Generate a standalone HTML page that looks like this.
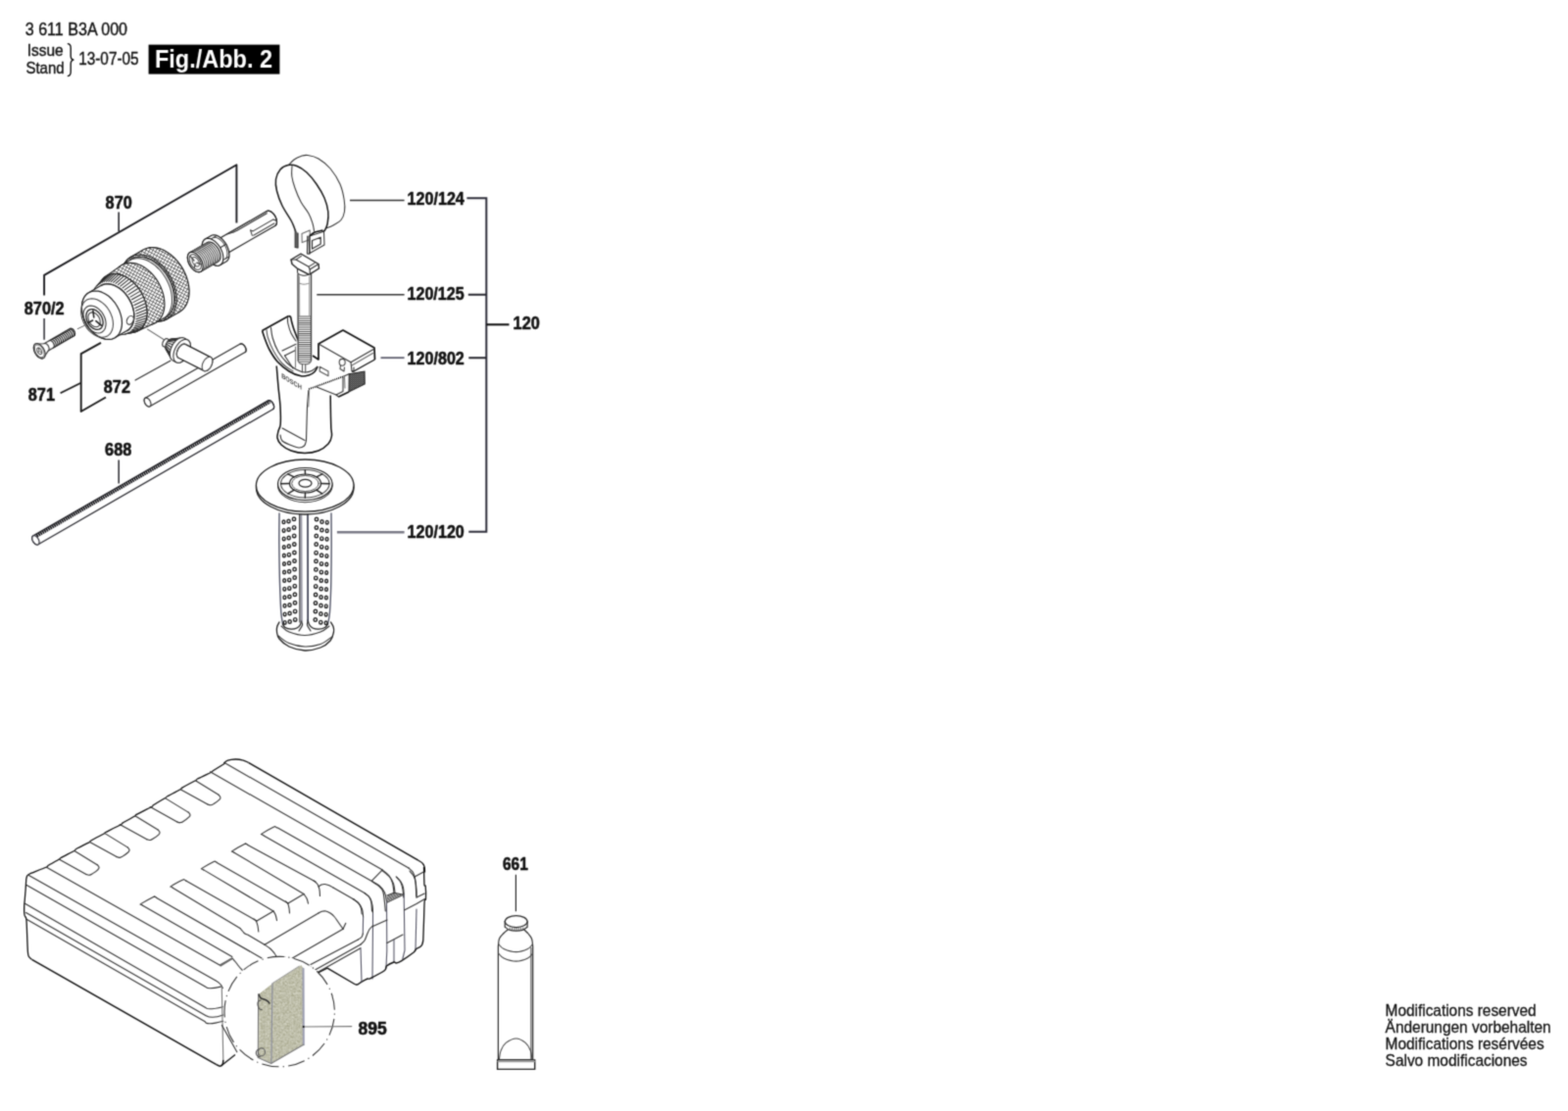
<!DOCTYPE html>
<html lang="en">
<head>
<meta charset="utf-8">
<title>Fig./Abb. 2 - 3 611 B3A 000</title>
<style>
html,body{margin:0;padding:0;background:#fff;}
body{width:1600px;height:1134px;overflow:hidden;position:relative;font-family:"Liberation Sans",sans-serif;}
svg{position:absolute;left:0;top:0;display:block;}
text{font-family:"Liberation Sans",sans-serif;fill:#111;}
.b{font-weight:bold;font-size:18px;stroke:#111;stroke-width:0.55px;stroke-linejoin:round;}
.r{font-size:17px;stroke:#111;stroke-width:0.3px;}
.k{stroke:#111;stroke-width:1.5;fill:none;stroke-linecap:butt;stroke-linejoin:round;}
.m{stroke:#222;stroke-width:1.1;fill:none;stroke-linejoin:round;stroke-linecap:round;}
.t{stroke:#333;stroke-width:1.1;fill:none;stroke-linejoin:round;stroke-linecap:round;}
.h{stroke:#555;stroke-width:0.6;fill:none;stroke-linejoin:round;stroke-linecap:round;}
.w{fill:#fff;}
.g{stroke:#2a2d3a;stroke-width:1.3;fill:none;}
</style>
</head>
<body>
<svg width="1600" height="1134" viewBox="0 0 1600 1134">
<defs>
<filter id="noise" x="0" y="0" width="100%" height="100%">
<feTurbulence type="fractalNoise" baseFrequency="0.45" numOctaves="2" seed="3" result="n"/>
<feColorMatrix in="n" type="matrix" values="0 0 0 0 0  0 0 0 0 0  0 0 0 0 0  0.9 0.9 0 0 -0.55" result="a"/>
<feFlood flood-color="#dcdccd" result="f"/>
<feComposite in="f" in2="a" operator="in" result="sp"/>
<feMerge><feMergeNode in="SourceGraphic"/><feMergeNode in="sp"/></feMerge>
<feComposite in2="SourceGraphic" operator="in"/>
</filter>
<pattern id="knurl" width="2" height="2" patternUnits="userSpaceOnUse">
<rect width="2" height="2" fill="#444"/>
<rect width="1" height="1" fill="#777"/>
<rect x="1" y="1" width="1" height="1" fill="#666"/>
</pattern>
<pattern id="kn" width="3.1" height="3.1" patternUnits="userSpaceOnUse" patternTransform="rotate(28)">
<rect width="3.1" height="3.1" fill="#fff"/>
<path d="M0 0 L3.1 0 M0 0 L0 3.1" stroke="#2a2a2a" stroke-width="1.05" fill="none"/>
</pattern>
<filter id="soft" filterUnits="userSpaceOnUse" x="0" y="0" width="1600" height="1134" color-interpolation-filters="sRGB"><feConvolveMatrix order="3" kernelMatrix="0.0324 0.1152 0.0324 0.1152 0.4096 0.1152 0.0324 0.1152 0.0324" divisor="1" edgeMode="duplicate" preserveAlpha="true"/></filter>
</defs>
<rect width="1600" height="1134" fill="#fff"/>
<g filter="url(#soft)">
<rect width="1600" height="1134" fill="#fff"/>
<!-- header -->
<g id="header">
<text x="25.8" y="35.8" textLength="104.2" lengthAdjust="spacingAndGlyphs" style="font-size:19px;stroke:#111;stroke-width:0.4">3 611 B3A 000</text>
<text x="27.7" y="57.4" textLength="37" lengthAdjust="spacingAndGlyphs" style="font-size:17px;stroke:#111;stroke-width:0.4">Issue</text>
<text x="26.4" y="74.6" textLength="39.2" lengthAdjust="spacingAndGlyphs" style="font-size:17px;stroke:#111;stroke-width:0.4">Stand</text>
<path d="M68.8 44.6 C71.8 44.6 72.2 46.2 72.2 49 L72.2 57 C72.2 59.6 73 60.9 75.4 61.1 C73 61.3 72.2 62.6 72.2 65.2 L72.2 73.2 C72.2 76 71.8 77.6 68.8 77.6" stroke="#111" stroke-width="1.4" fill="none"/>
<text x="80.2" y="65.7" textLength="61.4" lengthAdjust="spacingAndGlyphs" style="font-size:19px;stroke:#111;stroke-width:0.4">13-07-05</text>
<rect x="151.6" y="45.6" width="133.8" height="30" fill="#000"/>
<text x="158" y="68.5" textLength="120" lengthAdjust="spacingAndGlyphs" style="font-weight:bold;font-size:25px;fill:#fff">Fig./Abb. 2</text>
</g>
<!-- labels -->
<g id="labels">
<text class="b" x="107.6" y="212.9" textLength="27.2" lengthAdjust="spacingAndGlyphs">870</text>
<text class="b" x="24.8" y="320.9" textLength="40.8" lengthAdjust="spacingAndGlyphs">870/2</text>
<text class="b" x="28.8" y="408.6" textLength="27.2" lengthAdjust="spacingAndGlyphs">871</text>
<text class="b" x="105.8" y="401.2" textLength="27.2" lengthAdjust="spacingAndGlyphs">872</text>
<text class="b" x="107.1" y="465.0" textLength="27.2" lengthAdjust="spacingAndGlyphs">688</text>
<text class="b" x="415.6" y="209.3" textLength="58.2" lengthAdjust="spacingAndGlyphs">120/124</text>
<text class="b" x="415.6" y="305.7" textLength="58.0" lengthAdjust="spacingAndGlyphs">120/125</text>
<text class="b" x="415.6" y="372.0" textLength="58.2" lengthAdjust="spacingAndGlyphs">120/802</text>
<text class="b" x="415.6" y="548.7" textLength="58.2" lengthAdjust="spacingAndGlyphs">120/120</text>
<text class="b" x="523.6" y="336.4" textLength="27.2" lengthAdjust="spacingAndGlyphs">120</text>
<text class="b" x="513.0" y="887.6" textLength="25.8" lengthAdjust="spacingAndGlyphs">661</text>
<text class="b" x="365.5" y="1056.3" textLength="29.2" lengthAdjust="spacingAndGlyphs">895</text>
<!-- bracket 870 -->
<path class="k" style="stroke-width:1.9;stroke:#1a1a1e" d="M45.1 301.6 L45.1 280.9 L241.4 168.2 L241.4 227.4"/>
<path class="k" style="stroke-width:1.6;stroke:#2a2a30" d="M121.2 216.6 L121.2 236.3"/>
<path class="k" d="M45.1 325 L45.1 346.7" style="stroke-width:1.5;stroke:#2a2a30"/>
<!-- bracket 871 -->
<path class="k" style="stroke-width:1.9;stroke:#1a1a1a" d="M103 349.9 L82.7 361.2 L82.7 420 L108 405.5"/>
<path class="k" style="stroke-width:1.8;stroke:#1a1a1a" d="M61.6 401.2 L82.7 390.8"/>
<path class="t" style="stroke:#333;stroke-width:1.3" d="M138.1 388 L173.8 368.3"/>
<path class="k" d="M121.2 469.6 L121.2 493.6" style="stroke-width:1.5;stroke:#2a2a30"/>
<!-- bracket 120 -->
<path class="g" style="stroke-width:2;stroke:#2e2e3a" d="M476.4 202.2 L496.3 202.2 L496.3 542.8 L478.3 542.8"/>
<path class="g" style="stroke:#26262e;stroke-width:2" d="M477.8 300.7 L496.3 300.7 M478.3 365.3 L496.3 365.3"/>
<path class="g" style="stroke:#111;stroke-width:2.1" d="M496.3 331.3 L519.5 331.3"/>
<path class="g" style="stroke:#333;stroke-width:1.5" d="M357 204.4 L412.6 204.4 M323.3 300.7 L412.6 300.7"/>
<path class="g" style="stroke:#5e5e6e;stroke-width:1.8" d="M388.5 365.2 L412.6 365.2"/>
<path class="g" style="stroke:#7a7a86;stroke-width:2.4" d="M343.9 543.2 L412.6 543.2"/>
<path class="k" style="stroke-width:1.1" d="M526.4 892.8 L526.4 930.3"/>
</g>
<!-- rod688 -->
<g id="rod688">
<path class="w" d="M33.9 546.9 L33.5 547.1 L33.3 547.4 L33.1 547.8 L32.9 548.2 L32.8 548.7 L32.8 549.2 L32.8 549.8 L32.9 550.4 L33.1 551 L33.3 551.6 L33.5 552.2 L33.9 552.8 L34.2 553.3 L34.6 553.9 L35 554.3 L35.5 554.8 L35.9 555.2 L36.4 555.5 L36.9 555.7 L37.3 555.9 L37.8 555.9 L38.2 555.9 L38.6 555.9 L38.9 555.7 L278.5 417.7 L278.9 417.5 L279.1 417.2 L279.3 416.8 L279.5 416.4 L279.6 415.9 L279.6 415.4 L279.6 414.8 L279.5 414.2 L279.3 413.6 L279.1 413 L278.9 412.4 L278.5 411.8 L278.2 411.3 L277.8 410.7 L277.4 410.3 L276.9 409.8 L276.5 409.4 L276 409.1 L275.5 408.9 L275.1 408.7 L274.6 408.7 L274.2 408.7 L273.8 408.7 L273.5 408.9Z" style="fill:#fff;stroke:#2a2a30;stroke-width:1.3;stroke-linejoin:round"/>
<path class="t" d="M278.5 417.7 L278.8 417.6 L278.9 417.4 L279.1 417.2 L279.3 417 L279.4 416.7 L279.5 416.4 L279.5 416.1 L279.6 415.7 L279.6 415.4 L279.6 415 L279.5 414.6 L279.5 414.2 L279.4 413.8 L279.3 413.4 L279.1 413 L279 412.6 L278.8 412.2 L278.5 411.8 L278.3 411.5 L278.1 411.1 L277.8 410.7 L277.5 410.4 L277.2 410.1 L276.9 409.8 L276.6 409.6 L276.3 409.3 L276 409.1 L275.7 409 L275.4 408.8 L275.1 408.7 L274.8 408.7 L274.5 408.6 L274.2 408.7 L273.9 408.7 L273.7 408.8 L273.5 408.9" style="stroke:#2a2a30;stroke-width:1.1;fill:none"/>
<path d="M37.3 546.9 L275.2 409.9" stroke="#1c1c20" stroke-width="3.7" stroke-dasharray="1.7 0.6" fill="none"/>
<path class="t" d="M38.9 555.7 L39.3 555.4 L39.7 555 L39.9 554.4 L40 553.7 L40 553 L39.9 552.2 L39.7 551.4 L39.4 550.6 L38.9 549.8 L38.5 549.1 L37.9 548.4 L37.3 547.8 L36.7 547.3 L36.1 547 L35.5 546.7 L34.9 546.6 L34.3 546.7 L33.9 546.9 L33.5 547.2 L33.1 547.6 L32.9 548.2 L32.8 548.9 L32.8 549.6 L32.9 550.4 L33.1 551.2 L33.4 552 L33.9 552.8 L34.3 553.5 L34.9 554.2 L35.5 554.8 L36.1 555.3 L36.7 555.6 L37.3 555.9 L37.9 556 L38.5 555.9 L38.9 555.7Z" style="stroke:#33333c;stroke-width:1.2;fill:#fff"/>
</g>
<!-- chuck -->
<g id="chuck">
<path class="w" d="M133.6 262.2 L130.9 264.1 L128.6 266.5 L126.7 269.4 L125.2 272.7 L124.2 276.4 L123.7 280.3 L123.6 284.6 L124 288.9 L124.9 293.4 L126.3 297.8 L128.1 302.2 L130.3 306.5 L132.9 310.5 L135.8 314.3 L139 317.7 L142.4 320.7 L145.9 323.2 L149.6 325.3 L153.3 326.8 L157 327.8 L160.6 328.1 L164.1 327.9 L167.3 327.1 L170.3 325.8 L183.1 318.4 L185.8 316.5 L188.1 314.1 L190 311.2 L191.4 307.9 L192.5 304.2 L193 300.3 L193.1 296 L192.6 291.7 L191.7 287.2 L190.4 282.8 L188.6 278.4 L186.4 274.1 L183.8 270.1 L180.9 266.3 L177.7 262.9 L174.3 259.9 L170.7 257.4 L167 255.3 L163.3 253.8 L159.7 252.8 L156.1 252.5 L152.6 252.7 L149.4 253.5 L146.4 254.8Z" style="fill:url(#kn);stroke:#222;stroke-width:1.2;stroke-linejoin:round"/>
<path class="t" d="M170.3 325.8 L173.7 323.1 L176.6 319.6 L178.6 315.3 L179.9 310.3 L180.3 304.9 L179.8 299.1 L178.5 293.1 L176.4 287.2 L173.5 281.5 L170 276.2 L166 271.4 L161.5 267.3 L156.7 264 L151.8 261.6 L146.8 260.2 L142.1 259.9 L137.6 260.5 L133.6 262.2 L130.1 264.9 L127.3 268.4 L125.2 272.7 L124 277.7 L123.6 283.1 L124 288.9 L125.3 294.9 L127.5 300.8 L130.3 306.5 L133.8 311.8 L137.9 316.6 L142.4 320.7 L147.2 324 L152.1 326.4 L157 327.8 L161.8 328.1 L166.2 327.5 L170.3 325.8Z" style="stroke:#222;stroke-width:1.05;fill:none"/>
<path class="w" d="M124.4 270.4 L121.9 272.2 L119.8 274.4 L118 277.1 L116.7 280.2 L115.7 283.6 L115.2 287.3 L115.1 291.2 L115.5 295.3 L116.4 299.4 L117.7 303.6 L119.3 307.7 L121.4 311.6 L123.8 315.4 L126.5 318.9 L129.5 322.1 L132.6 324.9 L136 327.3 L139.4 329.2 L142.8 330.6 L146.3 331.5 L149.6 331.8 L152.8 331.6 L155.9 330.9 L158.6 329.6 L169 323.6 L171.5 321.8 L173.7 319.6 L175.4 316.9 L176.8 313.8 L177.8 310.4 L178.3 306.7 L178.3 302.8 L177.9 298.7 L177.1 294.6 L175.8 290.4 L174.1 286.3 L172.1 282.4 L169.7 278.6 L167 275.1 L164 271.9 L160.8 269.1 L157.5 266.7 L154.1 264.8 L150.6 263.4 L147.2 262.5 L143.8 262.2 L140.6 262.4 L137.6 263.1 L134.8 264.4Z" style="fill:#fff;stroke:#222;stroke-width:1.05;stroke-linejoin:round"/>
<path class="t" d="M166.1 325.6 L167.8 324.5 L169.4 323.1 L170.8 321.6 L172.1 319.8 L173.1 317.9 L174 315.8 L174.7 313.5 L175.2 311.1 L175.5 308.6 L175.5 306 L175.4 303.3 L175.1 300.5 L174.6 297.7 L173.9 294.9 L173 292.2 L171.9 289.4 L170.6 286.7 L169.2 284 L167.6 281.5 L165.9 279 L164.1 276.7 L162.1 274.5 L160 272.5 L157.9 270.7 L155.6 269 L153.4 267.6 L151.1 266.3 L148.7 265.3 L146.4 264.5 L144.1 264 L141.8 263.7 L139.6 263.7 L137.5 263.9 L135.4 264.3 L133.5 265 L131.6 265.9" style="stroke:#444;stroke-width:1.05;fill:none"/>
<path class="t" d="M168 325.4 L169.7 324.2 L171.3 322.8 L172.7 321.2 L174 319.5 L175.1 317.5 L176 315.3 L176.7 313 L177.2 310.6 L177.5 308 L177.6 305.3 L177.4 302.6 L177.1 299.8 L176.6 296.9 L175.9 294.1 L174.9 291.2 L173.8 288.4 L172.5 285.6 L171.1 282.9 L169.5 280.3 L167.7 277.8 L165.8 275.5 L163.8 273.2 L161.7 271.2 L159.5 269.3 L157.3 267.6 L154.9 266.1 L152.6 264.9 L150.2 263.9 L147.8 263.1 L145.5 262.5 L143.2 262.2 L140.9 262.2 L138.7 262.4 L136.6 262.8 L134.6 263.5 L132.8 264.4" style="stroke:#444;stroke-width:1.05;fill:none"/>
<path class="w" d="M108.8 281.4 L106.5 283 L104.4 285.2 L102.7 287.7 L101.4 290.7 L100.5 293.9 L100.1 297.4 L100 301.1 L100.4 305 L101.2 308.9 L102.4 312.9 L104 316.8 L105.9 320.6 L108.2 324.1 L110.8 327.5 L113.6 330.5 L116.6 333.1 L119.8 335.4 L123 337.2 L126.3 338.6 L129.6 339.4 L132.8 339.7 L135.8 339.5 L138.7 338.8 L141.3 337.6 L158.6 329.6 L161.1 327.8 L163.3 325.6 L165 322.9 L166.4 319.8 L167.4 316.4 L167.9 312.7 L167.9 308.8 L167.5 304.7 L166.7 300.6 L165.4 296.4 L163.7 292.3 L161.7 288.4 L159.3 284.6 L156.6 281.1 L153.6 277.9 L150.4 275.1 L147.1 272.7 L143.7 270.8 L140.2 269.4 L136.8 268.5 L133.4 268.2 L130.2 268.4 L127.2 269.1 L124.4 270.4Z" style="fill:url(#kn);stroke:#222;stroke-width:1.1;stroke-linejoin:round"/>
<path class="t" d="M141.3 337.6 L144.4 335.3 L146.9 332.2 L148.7 328.3 L149.8 324 L150.2 319.1 L149.8 314 L148.6 308.7 L146.7 303.5 L144.2 298.4 L141.1 293.7 L137.5 289.5 L133.5 285.9 L129.3 282.9 L124.9 280.8 L120.6 279.6 L116.4 279.3 L112.4 279.9 L108.8 281.4 L105.8 283.7 L103.3 286.8 L101.4 290.7 L100.3 295 L100 299.9 L100.4 305 L101.5 310.3 L103.4 315.5 L105.9 320.6 L109.1 325.3 L112.7 329.5 L116.6 333.1 L120.9 336.1 L125.2 338.2 L129.6 339.4 L133.8 339.7 L137.8 339.1 L141.3 337.6Z" style="stroke:#222;stroke-width:1.05;fill:none"/>
<path class="w" d="M101.5 289.6 L99.4 291.1 L97.6 293 L96.1 295.3 L94.9 297.9 L94.1 300.8 L93.7 304 L93.6 307.3 L93.9 310.7 L94.7 314.2 L95.7 317.8 L97.2 321.2 L98.9 324.6 L100.9 327.8 L103.2 330.8 L105.8 333.5 L108.4 335.8 L111.3 337.9 L114.2 339.5 L117.1 340.7 L120 341.4 L122.8 341.7 L125.6 341.6 L128.1 340.9 L130.5 339.9 L141.2 337.4 L143.5 335.7 L145.5 333.6 L147.2 331.1 L148.5 328.2 L149.4 325 L149.9 321.5 L149.9 317.8 L149.5 314 L148.8 310.1 L147.6 306.1 L146 302.3 L144 298.6 L141.8 295 L139.2 291.7 L136.4 288.7 L133.4 286.1 L130.3 283.8 L127.1 282 L123.8 280.7 L120.6 279.9 L117.5 279.5 L114.4 279.7 L111.6 280.4 L109 281.6Z" style="fill:#fff;stroke:#222;stroke-width:1.05;stroke-linejoin:round"/>
<path class="t" d="M127.5 341.1 L136.4 339.2" style="stroke:#2a2a2a;stroke-width:1.05"/>
<path class="t" d="M129.6 340.5 L138.6 338.5" style="stroke:#2a2a2a;stroke-width:1.05"/>
<path class="t" d="M131.5 339.5 L140.7 337.4" style="stroke:#2a2a2a;stroke-width:1.05"/>
<path class="t" d="M133.2 338.3 L142.6 336.1" style="stroke:#2a2a2a;stroke-width:1.05"/>
<path class="t" d="M134.7 336.7 L144.3 334.4" style="stroke:#2a2a2a;stroke-width:1.05"/>
<path class="t" d="M136.1 335 L145.7 332.4" style="stroke:#2a2a2a;stroke-width:1.05"/>
<path class="t" d="M137.2 332.9 L146.9 330.2" style="stroke:#2a2a2a;stroke-width:1.05"/>
<path class="t" d="M138 330.7 L147.9 327.8" style="stroke:#2a2a2a;stroke-width:1.05"/>
<path class="t" d="M138.7 328.3 L148.6 325.1" style="stroke:#2a2a2a;stroke-width:1.05"/>
<path class="t" d="M139 325.7 L149 322.3" style="stroke:#2a2a2a;stroke-width:1.05"/>
<path class="t" d="M139.1 323 L149.1 319.3" style="stroke:#2a2a2a;stroke-width:1.05"/>
<path class="t" d="M139 320.2 L148.9 316.3" style="stroke:#2a2a2a;stroke-width:1.05"/>
<path class="t" d="M138.6 317.3 L148.5 313.1" style="stroke:#2a2a2a;stroke-width:1.05"/>
<path class="t" d="M137.9 314.4 L147.8 309.9" style="stroke:#2a2a2a;stroke-width:1.05"/>
<path class="t" d="M137 311.5 L146.8 306.7" style="stroke:#2a2a2a;stroke-width:1.05"/>
<path class="t" d="M135.9 308.6 L145.5 303.6" style="stroke:#2a2a2a;stroke-width:1.05"/>
<path class="t" d="M134.5 305.8 L144.1 300.5" style="stroke:#2a2a2a;stroke-width:1.05"/>
<path class="t" d="M133 303.1 L142.3 297.6" style="stroke:#2a2a2a;stroke-width:1.05"/>
<path class="t" d="M131.2 300.6 L140.4 294.7" style="stroke:#2a2a2a;stroke-width:1.05"/>
<path class="t" d="M129.3 298.1 L138.3 292.1" style="stroke:#2a2a2a;stroke-width:1.05"/>
<path class="t" d="M127.2 295.9 L136.1 289.6" style="stroke:#2a2a2a;stroke-width:1.05"/>
<path class="t" d="M125.1 293.9 L133.7 287.4" style="stroke:#2a2a2a;stroke-width:1.05"/>
<path class="t" d="M122.8 292.1 L131.2 285.4" style="stroke:#2a2a2a;stroke-width:1.05"/>
<path class="t" d="M120.4 290.6 L128.6 283.8" style="stroke:#2a2a2a;stroke-width:1.05"/>
<path class="t" d="M118 289.3 L125.9 282.4" style="stroke:#2a2a2a;stroke-width:1.05"/>
<path class="t" d="M115.6 288.3 L123.3 281.3" style="stroke:#2a2a2a;stroke-width:1.05"/>
<path class="t" d="M113.2 287.7 L120.7 280.6" style="stroke:#2a2a2a;stroke-width:1.05"/>
<path class="t" d="M110.8 287.3 L118.1 280.2" style="stroke:#2a2a2a;stroke-width:1.05"/>
<path class="t" d="M108.5 287.3 L115.5 280.1" style="stroke:#2a2a2a;stroke-width:1.05"/>
<path class="t" d="M106.3 287.5 L113.1 280.4" style="stroke:#2a2a2a;stroke-width:1.05"/>
<path class="t" d="M104.2 288.1 L110.8 281.1" style="stroke:#2a2a2a;stroke-width:1.05"/>
<path class="t" d="M102.3 289 L108.7 282" style="stroke:#2a2a2a;stroke-width:1.05"/>
<path class="t" d="M100.5 290.1 L106.7 283.3" style="stroke:#2a2a2a;stroke-width:1.05"/>
<path class="t" d="M98.9 291.6 L105 284.9" style="stroke:#2a2a2a;stroke-width:1.05"/>
<path class="w" d="M90.6 298.7 L88.7 300 L87 301.8 L85.7 303.9 L84.6 306.3 L83.9 308.9 L83.5 311.8 L83.4 314.9 L83.7 318 L84.4 321.2 L85.4 324.5 L86.7 327.7 L88.3 330.7 L90.2 333.7 L92.3 336.4 L94.6 338.9 L97 341.1 L99.6 342.9 L102.3 344.4 L105 345.5 L107.6 346.2 L110.2 346.4 L112.7 346.3 L115.1 345.7 L117.2 344.7 L129.5 337.6 L131.5 336.3 L133.1 334.5 L134.5 332.4 L135.6 330 L136.3 327.4 L136.7 324.5 L136.8 321.4 L136.5 318.3 L135.8 315.1 L134.8 311.8 L133.5 308.6 L131.9 305.6 L130 302.6 L127.9 299.9 L125.6 297.4 L123.2 295.2 L120.6 293.4 L117.9 291.9 L115.2 290.8 L112.6 290.1 L110 289.9 L107.5 290 L105.1 290.6 L102.9 291.6Z" style="fill:#fff;stroke:#222;stroke-width:1.2;stroke-linejoin:round"/>
<path class="t" d="M129.7 337.9 L131 337 L132.2 336 L133.3 334.7 L134.3 333.4 L135.1 331.8 L135.8 330.2 L136.3 328.4 L136.7 326.6 L137 324.6 L137 322.6 L136.9 320.5 L136.7 318.3 L136.3 316.2 L135.7 314 L135 311.8 L134.2 309.6 L133.2 307.5 L132.1 305.5 L130.9 303.5 L129.5 301.5 L128.1 299.7 L126.5 298 L124.9 296.5 L123.2 295 L121.5 293.7 L119.7 292.6 L117.9 291.7 L116.1 290.9 L114.3 290.3 L112.5 289.9 L110.7 289.6 L109 289.6 L107.4 289.7 L105.7 290.1 L104.2 290.6 L102.8 291.3" style="stroke:#333;stroke-width:1.05;fill:none"/>
<path class="t" d="M117.2 344.7 L119.8 342.8 L121.8 340.3 L123.3 337.1 L124.2 333.5 L124.5 329.6 L124.2 325.4 L123.2 321.1 L121.7 316.8 L119.6 312.7 L117.1 308.8 L114.1 305.3 L110.9 302.3 L107.4 300 L103.8 298.2 L100.3 297.2 L96.8 297 L93.6 297.4 L90.6 298.7 L88.1 300.6 L86.1 303.1 L84.6 306.3 L83.7 309.9 L83.4 313.8 L83.7 318 L84.7 322.3 L86.2 326.6 L88.3 330.7 L90.8 334.6 L93.8 338.1 L97 341.1 L100.5 343.4 L104.1 345.2 L107.6 346.2 L111.1 346.4 L114.3 346 L117.2 344.7Z" style="stroke:#222;stroke-width:1.2;fill:#fff"/>
<path class="t" d="M109.7 342.9 L111.7 341.3 L113.3 339.3 L114.5 336.8 L115.2 333.9 L115.5 330.8 L115.2 327.4 L114.5 324 L113.2 320.6 L111.6 317.3 L109.6 314.2 L107.2 311.4 L104.6 309.1 L101.8 307.2 L99 305.8 L96.2 305 L93.4 304.8 L90.8 305.2 L88.5 306.1 L86.5 307.7 L84.9 309.7 L83.7 312.2 L83 315.1 L82.7 318.2 L83 321.6 L83.7 325 L85 328.4 L86.6 331.7 L88.6 334.8 L91 337.6 L93.6 339.9 L96.3 341.8 L99.2 343.2 L102 344 L104.8 344.2 L107.4 343.8 L109.7 342.9Z" style="stroke:#444;stroke-width:1.05;fill:none"/>
<path class="t" d="M104 339 L105.4 337.9 L106.6 336.5 L107.4 334.7 L107.9 332.7 L108.1 330.4 L107.9 328.1 L107.4 325.7 L106.5 323.2 L105.3 320.9 L103.9 318.7 L102.2 316.8 L100.4 315.1 L98.4 313.7 L96.4 312.8 L94.4 312.2 L92.5 312 L90.6 312.3 L89 313 L87.6 314.1 L86.4 315.5 L85.6 317.3 L85.1 319.3 L84.9 321.6 L85.1 323.9 L85.6 326.3 L86.5 328.8 L87.7 331.1 L89.1 333.3 L90.8 335.2 L92.6 336.9 L94.6 338.3 L96.6 339.2 L98.6 339.8 L100.5 340 L102.4 339.7 L104 339Z" style="stroke:#333;stroke-width:1.05;fill:none"/>
<path class="t" d="M102.1 335.7 L103.2 334.9 L104 333.8 L104.6 332.5 L105 331 L105.2 329.3 L105 327.6 L104.6 325.7 L104 323.9 L103.1 322.2 L102 320.6 L100.8 319.1 L99.4 317.9 L98 316.8 L96.4 316.1 L94.9 315.7 L93.5 315.6 L92.1 315.8 L90.9 316.3 L89.8 317.1 L89 318.2 L88.4 319.5 L88 321 L87.8 322.7 L88 324.4 L88.4 326.3 L89 328.1 L89.9 329.8 L91 331.4 L92.2 332.9 L93.6 334.1 L95 335.2 L96.6 335.9 L98.1 336.3 L99.5 336.4 L100.9 336.2 L102.1 335.7Z" style="stroke:#222;stroke-width:1.3;fill:none"/>
<path class="t" d="M100.1 333.2 L100.8 332.6 L101.4 331.8 L101.9 330.9 L102.2 329.8 L102.2 328.6 L102.1 327.4 L101.9 326.1 L101.4 324.8 L100.8 323.5 L100 322.4 L99.1 321.3 L98.1 320.4 L97.1 319.7 L96 319.2 L95 318.9 L93.9 318.8 L92.9 319 L92.1 319.3 L91.3 319.9 L90.7 320.7 L90.2 321.6 L90 322.7 L89.9 323.9 L90 325.1 L90.3 326.4 L90.7 327.7 L91.4 329 L92.1 330.1 L93 331.2 L94 332.1 L95 332.8 L96.1 333.3 L97.2 333.6 L98.2 333.7 L99.2 333.5 L100.1 333.2Z" style="stroke:#333;stroke-width:1.05;fill:#fff"/>
<path class="t" d="M97.9 327.7 L103.3 332.2" style="stroke:#222;stroke-width:1.6"/>
<path class="t" d="M95.8 324 L94.9 317.1" style="stroke:#222;stroke-width:1.6"/>
<path class="t" d="M94.6 327 L90.1 329.4" style="stroke:#222;stroke-width:1.6"/>
<ellipse cx="132.8" cy="326.8" rx="3.2" ry="4.6" transform="rotate(25 132.8 326.8)" style="fill:#fff;stroke:#333;stroke-width:1.05"/>
</g>
<!-- adapter -->
<g id="adapter">
<path class="w" d="M218.4 246.6 L217.9 246.9 L217.4 247.4 L217.1 248.1 L216.8 248.8 L216.7 249.6 L216.6 250.5 L216.7 251.4 L216.8 252.4 L217.1 253.4 L217.4 254.5 L217.9 255.5 L218.4 256.5 L219 257.4 L219.6 258.3 L220.4 259.1 L221.1 259.9 L221.9 260.5 L222.7 261 L223.5 261.4 L224.3 261.7 L225 261.8 L225.7 261.8 L226.4 261.7 L227 261.4 L280.7 230.4 L281.2 230.1 L281.6 229.6 L282 228.9 L282.2 228.2 L282.4 227.4 L282.5 226.5 L282.4 225.6 L282.2 224.6 L282 223.6 L281.6 222.5 L281.2 221.5 L280.7 220.5 L280.1 219.6 L279.4 218.7 L278.7 217.9 L277.9 217.1 L277.2 216.5 L276.4 216 L275.6 215.6 L274.8 215.3 L274 215.2 L273.3 215.2 L272.7 215.3 L272.1 215.6Z" style="fill:#fff;stroke:#222;stroke-width:1.2;stroke-linejoin:round"/>
<path class="t" d="M280.7 230.4 L281 230.2 L281.4 229.9 L281.6 229.6 L281.9 229.2 L282.1 228.7 L282.2 228.2 L282.4 227.7 L282.4 227.1 L282.5 226.5 L282.4 225.9 L282.4 225.2 L282.2 224.6 L282.1 223.9 L281.9 223.2 L281.6 222.5 L281.4 221.8 L281 221.2 L280.7 220.5 L280.3 219.9 L279.9 219.3 L279.4 218.7 L278.9 218.1 L278.5 217.6 L277.9 217.1 L277.4 216.7 L276.9 216.3 L276.4 216 L275.8 215.7 L275.3 215.5 L274.8 215.3 L274.3 215.2 L273.8 215.2 L273.3 215.2 L272.9 215.2 L272.5 215.4 L272.1 215.6" style="stroke:#222;stroke-width:1.1;fill:none"/>
<path class="t" d="M231.8 238.9 L238.2 237 L242 235.2 L272.3 217.7" style="stroke:#333;stroke-width:1.05;fill:none;stroke-linejoin:round"/>
<path class="t" d="M238.2 237 L237.2 236.2 L272.7 215.7" style="stroke:#555;stroke-width:1.05;fill:none;stroke-linejoin:round"/>
<path class="t" d="M255.6 235 L258.2 235.9 L279 223.9 L282.4 225.4" style="stroke:#333;stroke-width:1.05;fill:none;stroke-linejoin:round"/>
<path class="t" d="M255.6 235 L257.3 240.3 L259.1 240 L279.9 228" style="stroke:#444;stroke-width:1.05;fill:none;stroke-linejoin:round"/>
<path class="w" d="M209.4 244 L208.5 244.7 L207.7 245.6 L207.1 246.7 L206.6 248 L206.3 249.4 L206.2 251 L206.3 252.7 L206.6 254.4 L207.1 256.3 L207.7 258.1 L208.5 259.9 L209.4 261.7 L210.5 263.4 L211.6 264.9 L212.9 266.4 L214.3 267.7 L215.6 268.8 L217.1 269.7 L218.5 270.4 L219.9 270.9 L221.2 271.2 L222.5 271.2 L223.6 271 L224.7 270.5 L230.8 267 L231.7 266.3 L232.5 265.4 L233.1 264.3 L233.6 263 L233.8 261.6 L233.9 260 L233.8 258.3 L233.6 256.6 L233.1 254.7 L232.5 252.9 L231.7 251.1 L230.8 249.3 L229.7 247.6 L228.5 246.1 L227.3 244.6 L225.9 243.3 L224.5 242.2 L223.1 241.3 L221.7 240.6 L220.3 240.1 L219 239.8 L217.7 239.8 L216.5 240 L215.5 240.5Z" style="fill:#fff;stroke:#222;stroke-width:1.2;stroke-linejoin:round"/>
<path class="t" d="M224.7 270.5 L225.9 269.5 L226.9 268.2 L227.5 266.5 L227.8 264.6 L227.8 262.4 L227.5 260.1 L226.9 257.6 L225.9 255.2 L224.7 252.8 L223.3 250.6 L221.6 248.6 L219.8 246.8 L218 245.4 L216.1 244.3 L214.3 243.6 L212.5 243.3 L210.8 243.4 L209.4 244 L208.2 245 L207.3 246.3 L206.6 248 L206.3 249.9 L206.3 252.1 L206.6 254.4 L207.3 256.9 L208.2 259.3 L209.4 261.7 L210.9 263.9 L212.5 265.9 L214.3 267.7 L216.1 269.1 L218 270.2 L219.9 270.9 L221.6 271.2 L223.3 271.1 L224.7 270.5Z" style="stroke:#222;stroke-width:1.1;fill:#fff"/>
<path class="t" d="M230.3 263.9 L230.7 263.4 L231 262.9 L231.3 262.4 L231.5 261.8 L231.7 261.1 L231.8 260.4 L231.9 259.6 L232 258.9 L231.9 258 L231.8 257.2 L231.7 256.3 L231.5 255.5 L231.3 254.6 L231 253.7 L230.6 252.8 L230.3 251.9 L229.8 251 L229.4 250.1 L228.9 249.3 L228.3 248.5 L227.7 247.7 L227.1 247 L226.5 246.3 L225.8 245.6 L225.2 245 L224.5 244.5 L223.8 244 L223.1 243.5 L222.4 243.2 L221.7 242.9 L221.1 242.6 L220.4 242.5 L219.7 242.4 L219.1 242.3 L218.5 242.4 L217.9 242.5" style="stroke:#555;stroke-width:1.05;fill:none"/>
<path class="t" d="M227.7 265.4 L233.8 261.9" style="stroke:#333;stroke-width:1.05;fill:none;stroke-linejoin:round"/>
<path class="t" d="M224.7 252.8 L230.8 249.3" style="stroke:#333;stroke-width:1.05;fill:none;stroke-linejoin:round"/>
<path class="t" d="M215.4 243.9 L221.4 240.4" style="stroke:#333;stroke-width:1.05;fill:none;stroke-linejoin:round"/>
<path class="w" d="M193.7 257.8 L193 258.3 L192.4 259 L192 259.8 L191.7 260.7 L191.5 261.8 L191.4 262.9 L191.5 264.2 L191.7 265.4 L192 266.8 L192.4 268.1 L193 269.4 L193.7 270.7 L194.5 272 L195.3 273.1 L196.3 274.2 L197.3 275.1 L198.3 276 L199.3 276.6 L200.3 277.2 L201.4 277.5 L202.3 277.7 L203.3 277.7 L204.1 277.5 L204.9 277.2 L222.7 266.9 L223.3 266.4 L223.9 265.8 L224.4 265 L224.7 264 L224.9 263 L225 261.8 L224.9 260.6 L224.7 259.3 L224.4 258 L223.9 256.6 L223.3 255.3 L222.7 254 L221.9 252.8 L221 251.6 L220.1 250.6 L219.1 249.6 L218.1 248.8 L217.1 248.1 L216 247.6 L215 247.2 L214 247.1 L213.1 247 L212.2 247.2 L211.5 247.6Z" style="fill:#fff;stroke:#222;stroke-width:1.2;stroke-linejoin:round"/>
<path class="t" d="M206.4 276.3 L207 276 L207.4 275.6 L207.8 275.2 L208.2 274.7 L208.5 274.1 L208.8 273.5 L208.9 272.8 L209.1 272.1 L209.1 271.3 L209.1 270.4 L209 269.6 L208.9 268.7 L208.7 267.7 L208.4 266.8 L208.1 265.9 L207.7 265 L207.3 264.1 L206.8 263.2 L206.3 262.3 L205.7 261.5 L205.1 260.7 L204.4 259.9 L203.8 259.2 L203.1 258.6 L202.4 258 L201.7 257.5 L201 257.1 L200.2 256.8 L199.5 256.5 L198.8 256.3 L198.2 256.2 L197.5 256.2 L196.9 256.2 L196.3 256.4 L195.8 256.6 L195.3 256.9" style="stroke:#555;stroke-width:1.05;fill:none"/>
<path class="t" d="M208.2 275.3 L208.7 275 L209.2 274.6 L209.6 274.2 L209.9 273.7 L210.2 273.1 L210.5 272.5 L210.7 271.8 L210.8 271.1 L210.9 270.3 L210.8 269.4 L210.8 268.6 L210.6 267.7 L210.4 266.7 L210.2 265.8 L209.8 264.9 L209.5 264 L209 263.1 L208.5 262.2 L208 261.3 L207.4 260.5 L206.8 259.7 L206.2 258.9 L205.5 258.2 L204.8 257.6 L204.1 257 L203.4 256.5 L202.7 256.1 L202 255.8 L201.3 255.5 L200.6 255.3 L199.9 255.2 L199.2 255.2 L198.6 255.2 L198 255.4 L197.5 255.6 L197 255.9" style="stroke:#555;stroke-width:1.05;fill:none"/>
<path class="t" d="M209.9 274.3 L210.4 274 L210.9 273.6 L211.3 273.2 L211.7 272.7 L212 272.1 L212.2 271.5 L212.4 270.8 L212.5 270.1 L212.6 269.3 L212.6 268.4 L212.5 267.6 L212.4 266.7 L212.2 265.7 L211.9 264.8 L211.6 263.9 L211.2 263 L210.8 262.1 L210.3 261.2 L209.7 260.3 L209.2 259.5 L208.6 258.7 L207.9 257.9 L207.2 257.2 L206.6 256.6 L205.9 256 L205.1 255.5 L204.4 255.1 L203.7 254.8 L203 254.5 L202.3 254.3 L201.6 254.2 L201 254.2 L200.4 254.2 L199.8 254.4 L199.2 254.6 L198.7 254.9" style="stroke:#555;stroke-width:1.05;fill:none"/>
<path class="t" d="M211.6 273.3 L212.2 273 L212.6 272.6 L213 272.2 L213.4 271.7 L213.7 271.1 L214 270.5 L214.1 269.8 L214.3 269.1 L214.3 268.3 L214.3 267.4 L214.2 266.6 L214.1 265.7 L213.9 264.7 L213.6 263.8 L213.3 262.9 L212.9 262 L212.5 261.1 L212 260.2 L211.5 259.3 L210.9 258.5 L210.3 257.7 L209.6 256.9 L209 256.2 L208.3 255.6 L207.6 255 L206.9 254.5 L206.2 254.1 L205.4 253.8 L204.7 253.5 L204 253.3 L203.4 253.2 L202.7 253.2 L202.1 253.2 L201.5 253.4 L201 253.6 L200.5 253.9" style="stroke:#555;stroke-width:1.05;fill:none"/>
<path class="t" d="M213.4 272.3 L213.9 272 L214.4 271.6 L214.8 271.2 L215.1 270.7 L215.4 270.1 L215.7 269.5 L215.9 268.8 L216 268.1 L216 267.3 L216 266.4 L216 265.6 L215.8 264.7 L215.6 263.7 L215.4 262.8 L215 261.9 L214.6 261 L214.2 260.1 L213.7 259.2 L213.2 258.3 L212.6 257.5 L212 256.7 L211.4 255.9 L210.7 255.2 L210 254.6 L209.3 254 L208.6 253.5 L207.9 253.1 L207.2 252.8 L206.5 252.5 L205.8 252.3 L205.1 252.2 L204.4 252.2 L203.8 252.2 L203.2 252.4 L202.7 252.6 L202.2 252.9" style="stroke:#555;stroke-width:1.05;fill:none"/>
<path class="t" d="M215.1 271.3 L215.6 271 L216.1 270.6 L216.5 270.2 L216.9 269.7 L217.2 269.1 L217.4 268.5 L217.6 267.8 L217.7 267.1 L217.8 266.3 L217.8 265.4 L217.7 264.6 L217.6 263.7 L217.4 262.7 L217.1 261.8 L216.8 260.9 L216.4 260 L215.9 259.1 L215.5 258.2 L214.9 257.3 L214.4 256.5 L213.7 255.7 L213.1 254.9 L212.4 254.2 L211.8 253.6 L211 253 L210.3 252.5 L209.6 252.1 L208.9 251.8 L208.2 251.5 L207.5 251.3 L206.8 251.2 L206.2 251.2 L205.6 251.2 L205 251.4 L204.4 251.6 L203.9 251.9" style="stroke:#555;stroke-width:1.05;fill:none"/>
<path class="t" d="M216.8 270.3 L217.4 270 L217.8 269.6 L218.2 269.2 L218.6 268.7 L218.9 268.1 L219.2 267.5 L219.3 266.8 L219.5 266.1 L219.5 265.3 L219.5 264.4 L219.4 263.6 L219.3 262.7 L219.1 261.7 L218.8 260.8 L218.5 259.9 L218.1 259 L217.7 258.1 L217.2 257.2 L216.7 256.3 L216.1 255.5 L215.5 254.7 L214.8 253.9 L214.2 253.2 L213.5 252.6 L212.8 252 L212.1 251.5 L211.3 251.1 L210.6 250.8 L209.9 250.5 L209.2 250.3 L208.6 250.2 L207.9 250.2 L207.3 250.2 L206.7 250.4 L206.2 250.6 L205.7 250.9" style="stroke:#555;stroke-width:1.05;fill:none"/>
<path class="t" d="M218.6 269.3 L219.1 269 L219.6 268.6 L220 268.2 L220.3 267.7 L220.6 267.1 L220.9 266.5 L221.1 265.8 L221.2 265.1 L221.2 264.3 L221.2 263.4 L221.2 262.6 L221 261.7 L220.8 260.7 L220.6 259.8 L220.2 258.9 L219.8 258 L219.4 257.1 L218.9 256.2 L218.4 255.3 L217.8 254.5 L217.2 253.7 L216.6 252.9 L215.9 252.2 L215.2 251.6 L214.5 251 L213.8 250.5 L213.1 250.1 L212.4 249.8 L211.7 249.5 L211 249.3 L210.3 249.2 L209.6 249.2 L209 249.2 L208.4 249.4 L207.9 249.6 L207.4 249.9" style="stroke:#555;stroke-width:1.05;fill:none"/>
<path class="t" d="M220.3 268.3 L220.8 268 L221.3 267.6 L221.7 267.2 L222.1 266.7 L222.4 266.1 L222.6 265.5 L222.8 264.8 L222.9 264.1 L223 263.3 L223 262.4 L222.9 261.6 L222.7 260.7 L222.5 259.7 L222.3 258.8 L222 257.9 L221.6 257 L221.1 256.1 L220.7 255.2 L220.1 254.3 L219.6 253.5 L218.9 252.7 L218.3 251.9 L217.6 251.2 L216.9 250.6 L216.2 250 L215.5 249.5 L214.8 249.1 L214.1 248.8 L213.4 248.5 L212.7 248.3 L212 248.2 L211.4 248.2 L210.7 248.2 L210.2 248.4 L209.6 248.6 L209.1 248.9" style="stroke:#555;stroke-width:1.05;fill:none"/>
<path class="t" d="M204.9 277.2 L205.8 276.5 L206.5 275.5 L206.9 274.3 L207.2 272.9 L207.2 271.3 L206.9 269.6 L206.5 267.8 L205.8 266 L204.9 264.3 L203.8 262.6 L202.6 261.1 L201.3 259.9 L200 258.8 L198.6 258 L197.2 257.5 L196 257.3 L194.8 257.4 L193.7 257.8 L192.8 258.5 L192.1 259.5 L191.7 260.7 L191.4 262.1 L191.4 263.7 L191.7 265.4 L192.1 267.2 L192.8 269 L193.7 270.7 L194.8 272.4 L196 273.9 L197.3 275.1 L198.6 276.2 L200 277 L201.4 277.5 L202.6 277.7 L203.8 277.6 L204.9 277.2Z" style="stroke:#222;stroke-width:1.2;fill:#fff"/>
<path class="t" d="M203.6 274.9 L204.3 274.4 L204.8 273.7 L205.2 272.7 L205.4 271.6 L205.4 270.4 L205.2 269.1 L204.8 267.7 L204.3 266.3 L203.6 265 L202.8 263.8 L201.9 262.6 L200.9 261.6 L199.8 260.8 L198.8 260.2 L197.7 259.8 L196.7 259.7 L195.8 259.7 L195 260.1 L194.3 260.6 L193.8 261.3 L193.4 262.3 L193.2 263.4 L193.2 264.6 L193.4 265.9 L193.8 267.3 L194.3 268.7 L195 270 L195.8 271.2 L196.7 272.4 L197.7 273.4 L198.8 274.2 L199.8 274.8 L200.9 275.2 L201.9 275.3 L202.8 275.3 L203.6 274.9Z" style="stroke:#444;stroke-width:1.05;fill:none"/>
<path class="t" d="M202.3 271.8 L202.7 271.4 L203.1 271 L203.3 270.4 L203.4 269.7 L203.4 269 L203.3 268.2 L203.1 267.4 L202.7 266.6 L202.3 265.7 L201.8 265 L201.3 264.3 L200.7 263.7 L200.1 263.2 L199.4 262.8 L198.8 262.6 L198.2 262.5 L197.6 262.6 L197.1 262.7 L196.7 263.1 L196.4 263.5 L196.2 264.1 L196.1 264.8 L196.1 265.5 L196.2 266.3 L196.4 267.1 L196.7 267.9 L197.1 268.8 L197.6 269.5 L198.2 270.2 L198.8 270.8 L199.4 271.3 L200.1 271.7 L200.7 271.9 L201.3 272 L201.8 271.9 L202.3 271.8Z" style="stroke:#555;stroke-width:1.05;fill:none"/>
<path class="t" d="M200.7 268.1 L204.9 269.7" style="stroke:#444;stroke-width:1.2;fill:none;stroke-linejoin:round"/>
<path class="t" d="M198 266 L194.3 261.6" style="stroke:#444;stroke-width:1.2;fill:none;stroke-linejoin:round"/>
<path class="t" d="M199.1 269 L198.4 273.4" style="stroke:#444;stroke-width:1.2;fill:none;stroke-linejoin:round"/>
</g>
<!-- screw -->
<g id="screw">
<path class="w" d="M43.3 351.7 L43.1 351.9 L42.9 352.1 L42.7 352.4 L42.6 352.8 L42.5 353.2 L42.5 353.6 L42.5 354 L42.6 354.5 L42.7 355 L42.9 355.5 L43.1 356 L43.3 356.5 L43.6 357 L44 357.4 L44.3 357.8 L44.7 358.2 L45.1 358.5 L45.4 358.7 L45.8 358.9 L46.2 359.1 L46.6 359.1 L46.9 359.1 L47.3 359.1 L47.5 358.9 L75.7 342.7 L75.9 342.5 L76.2 342.2 L76.3 341.9 L76.5 341.6 L76.5 341.2 L76.6 340.8 L76.5 340.3 L76.5 339.8 L76.3 339.3 L76.2 338.8 L75.9 338.3 L75.7 337.8 L75.4 337.4 L75.1 336.9 L74.7 336.5 L74.4 336.2 L74 335.9 L73.6 335.6 L73.2 335.4 L72.8 335.3 L72.5 335.2 L72.1 335.2 L71.8 335.3 L71.5 335.4Z" style="fill:#fff;stroke:#333;stroke-width:1.1;stroke-linejoin:round"/>
<path class="t" d="M75.7 342.7 L75.9 342.6 L76 342.4 L76.2 342.2 L76.3 342.1 L76.4 341.8 L76.5 341.6 L76.5 341.3 L76.5 341.1 L76.6 340.8 L76.5 340.5 L76.5 340.1 L76.5 339.8 L76.4 339.5 L76.3 339.2 L76.2 338.8 L76 338.5 L75.9 338.2 L75.7 337.8 L75.5 337.5 L75.3 337.2 L75.1 336.9 L74.8 336.7 L74.6 336.4 L74.4 336.2 L74.1 336 L73.8 335.8 L73.6 335.6 L73.3 335.5 L73.1 335.4 L72.8 335.3 L72.6 335.2 L72.3 335.2 L72.1 335.2 L71.9 335.3 L71.7 335.3 L71.5 335.4" style="stroke:#333;stroke-width:1.05;fill:none"/>
<path class="t" d="M54.5 354.9 L54.6 354.8 L54.8 354.7 L54.9 354.5 L55.1 354.3 L55.2 354.1 L55.2 353.8 L55.3 353.6 L55.3 353.3 L55.3 353 L55.3 352.7 L55.3 352.4 L55.2 352.1 L55.2 351.7 L55.1 351.4 L54.9 351.1 L54.8 350.7 L54.6 350.4 L54.5 350.1 L54.3 349.8 L54.1 349.5 L53.9 349.2 L53.6 348.9 L53.4 348.7 L53.1 348.4 L52.9 348.2 L52.6 348 L52.4 347.9 L52.1 347.7 L51.9 347.6 L51.6 347.5 L51.4 347.5 L51.1 347.5 L50.9 347.5 L50.7 347.5 L50.5 347.6 L50.3 347.7" style="stroke:#2a2a2a;stroke-width:1.15;fill:none"/>
<path class="t" d="M56.3 353.9 L56.5 353.8 L56.6 353.6 L56.8 353.4 L56.9 353.3 L57 353 L57.1 352.8 L57.1 352.5 L57.2 352.3 L57.2 352 L57.2 351.7 L57.1 351.3 L57.1 351 L57 350.7 L56.9 350.4 L56.8 350 L56.6 349.7 L56.5 349.4 L56.3 349 L56.1 348.7 L55.9 348.4 L55.7 348.1 L55.4 347.9 L55.2 347.6 L55 347.4 L54.7 347.2 L54.5 347 L54.2 346.8 L53.9 346.7 L53.7 346.6 L53.4 346.5 L53.2 346.4 L52.9 346.4 L52.7 346.4 L52.5 346.5 L52.3 346.5 L52.1 346.6" style="stroke:#2a2a2a;stroke-width:1.15;fill:none"/>
<path class="t" d="M58.1 352.8 L58.3 352.7 L58.4 352.6 L58.6 352.4 L58.7 352.2 L58.8 352 L58.9 351.7 L58.9 351.5 L59 351.2 L59 350.9 L59 350.6 L58.9 350.3 L58.9 350 L58.8 349.6 L58.7 349.3 L58.6 349 L58.4 348.6 L58.3 348.3 L58.1 348 L57.9 347.7 L57.7 347.4 L57.5 347.1 L57.3 346.8 L57 346.6 L56.8 346.3 L56.5 346.1 L56.3 345.9 L56 345.8 L55.8 345.6 L55.5 345.5 L55.2 345.4 L55 345.4 L54.8 345.4 L54.5 345.4 L54.3 345.4 L54.1 345.5 L53.9 345.6" style="stroke:#2a2a2a;stroke-width:1.15;fill:none"/>
<path class="t" d="M59.9 351.8 L60.1 351.7 L60.3 351.5 L60.4 351.3 L60.5 351.2 L60.6 350.9 L60.7 350.7 L60.8 350.4 L60.8 350.2 L60.8 349.9 L60.8 349.6 L60.8 349.2 L60.7 348.9 L60.6 348.6 L60.5 348.3 L60.4 347.9 L60.3 347.6 L60.1 347.3 L59.9 346.9 L59.7 346.6 L59.5 346.3 L59.3 346 L59.1 345.8 L58.8 345.5 L58.6 345.3 L58.3 345.1 L58.1 344.9 L57.8 344.7 L57.6 344.6 L57.3 344.5 L57.1 344.4 L56.8 344.3 L56.6 344.3 L56.3 344.3 L56.1 344.4 L55.9 344.4 L55.7 344.5" style="stroke:#2a2a2a;stroke-width:1.15;fill:none"/>
<path class="t" d="M61.7 350.7 L61.9 350.6 L62.1 350.5 L62.2 350.3 L62.3 350.1 L62.4 349.9 L62.5 349.6 L62.6 349.4 L62.6 349.1 L62.6 348.8 L62.6 348.5 L62.6 348.2 L62.5 347.9 L62.4 347.5 L62.3 347.2 L62.2 346.9 L62.1 346.5 L61.9 346.2 L61.7 345.9 L61.6 345.6 L61.4 345.3 L61.1 345 L60.9 344.7 L60.7 344.5 L60.4 344.2 L60.2 344 L59.9 343.8 L59.6 343.7 L59.4 343.5 L59.1 343.4 L58.9 343.3 L58.6 343.3 L58.4 343.3 L58.2 343.3 L57.9 343.3 L57.7 343.4 L57.5 343.5" style="stroke:#2a2a2a;stroke-width:1.15;fill:none"/>
<path class="t" d="M63.6 349.7 L63.7 349.6 L63.9 349.4 L64 349.2 L64.2 349.1 L64.3 348.8 L64.3 348.6 L64.4 348.3 L64.4 348.1 L64.4 347.8 L64.4 347.5 L64.4 347.1 L64.3 346.8 L64.3 346.5 L64.2 346.2 L64 345.8 L63.9 345.5 L63.7 345.2 L63.6 344.8 L63.4 344.5 L63.2 344.2 L63 343.9 L62.7 343.7 L62.5 343.4 L62.2 343.2 L62 343 L61.7 342.8 L61.5 342.6 L61.2 342.5 L61 342.4 L60.7 342.3 L60.5 342.2 L60.2 342.2 L60 342.2 L59.8 342.3 L59.6 342.3 L59.4 342.4" style="stroke:#2a2a2a;stroke-width:1.15;fill:none"/>
<path class="t" d="M65.4 348.6 L65.6 348.5 L65.7 348.4 L65.9 348.2 L66 348 L66.1 347.8 L66.2 347.5 L66.2 347.3 L66.2 347 L66.3 346.7 L66.2 346.4 L66.2 346.1 L66.2 345.8 L66.1 345.4 L66 345.1 L65.9 344.8 L65.7 344.4 L65.6 344.1 L65.4 343.8 L65.2 343.5 L65 343.2 L64.8 342.9 L64.5 342.6 L64.3 342.4 L64.1 342.1 L63.8 341.9 L63.5 341.7 L63.3 341.6 L63 341.4 L62.8 341.3 L62.5 341.2 L62.3 341.2 L62 341.2 L61.8 341.2 L61.6 341.2 L61.4 341.3 L61.2 341.4" style="stroke:#2a2a2a;stroke-width:1.15;fill:none"/>
<path class="t" d="M67.2 347.6 L67.4 347.5 L67.5 347.3 L67.7 347.1 L67.8 347 L67.9 346.7 L68 346.5 L68 346.2 L68.1 346 L68.1 345.7 L68.1 345.4 L68 345 L68 344.7 L67.9 344.4 L67.8 344.1 L67.7 343.7 L67.5 343.4 L67.4 343.1 L67.2 342.7 L67 342.4 L66.8 342.1 L66.6 341.8 L66.4 341.6 L66.1 341.3 L65.9 341.1 L65.6 340.9 L65.4 340.7 L65.1 340.5 L64.8 340.4 L64.6 340.3 L64.3 340.2 L64.1 340.1 L63.8 340.1 L63.6 340.1 L63.4 340.2 L63.2 340.2 L63 340.3" style="stroke:#2a2a2a;stroke-width:1.15;fill:none"/>
<path class="t" d="M69 346.5 L69.2 346.4 L69.4 346.3 L69.5 346.1 L69.6 345.9 L69.7 345.7 L69.8 345.4 L69.8 345.2 L69.9 344.9 L69.9 344.6 L69.9 344.3 L69.8 344 L69.8 343.7 L69.7 343.3 L69.6 343 L69.5 342.7 L69.4 342.3 L69.2 342 L69 341.7 L68.8 341.4 L68.6 341.1 L68.4 340.8 L68.2 340.5 L67.9 340.3 L67.7 340 L67.4 339.8 L67.2 339.6 L66.9 339.5 L66.7 339.3 L66.4 339.2 L66.2 339.1 L65.9 339.1 L65.7 339.1 L65.4 339.1 L65.2 339.1 L65 339.2 L64.8 339.3" style="stroke:#2a2a2a;stroke-width:1.15;fill:none"/>
<path class="t" d="M70.8 345.5 L71 345.4 L71.2 345.2 L71.3 345 L71.4 344.9 L71.5 344.6 L71.6 344.4 L71.7 344.1 L71.7 343.9 L71.7 343.6 L71.7 343.3 L71.7 342.9 L71.6 342.6 L71.5 342.3 L71.4 342 L71.3 341.6 L71.2 341.3 L71 341 L70.8 340.6 L70.6 340.3 L70.4 340 L70.2 339.7 L70 339.5 L69.8 339.2 L69.5 339 L69.3 338.8 L69 338.6 L68.7 338.4 L68.5 338.3 L68.2 338.2 L68 338.1 L67.7 338 L67.5 338 L67.3 338 L67 338.1 L66.8 338.1 L66.6 338.2" style="stroke:#2a2a2a;stroke-width:1.15;fill:none"/>
<path class="t" d="M72.7 344.4 L72.8 344.3 L73 344.2 L73.1 344 L73.3 343.8 L73.4 343.6 L73.4 343.3 L73.5 343.1 L73.5 342.8 L73.5 342.5 L73.5 342.2 L73.5 341.9 L73.4 341.6 L73.4 341.2 L73.3 340.9 L73.1 340.6 L73 340.2 L72.8 339.9 L72.7 339.6 L72.5 339.3 L72.3 339 L72 338.7 L71.8 338.4 L71.6 338.2 L71.3 337.9 L71.1 337.7 L70.8 337.5 L70.6 337.4 L70.3 337.2 L70 337.1 L69.8 337 L69.5 337 L69.3 337 L69.1 337 L68.9 337 L68.7 337.1 L68.5 337.2" style="stroke:#2a2a2a;stroke-width:1.15;fill:none"/>
<path class="t" d="M74.5 343.4 L74.7 343.3 L74.8 343.1 L75 342.9 L75.1 342.8 L75.2 342.5 L75.2 342.3 L75.3 342 L75.3 341.8 L75.3 341.5 L75.3 341.2 L75.3 340.8 L75.2 340.5 L75.2 340.2 L75.1 339.9 L75 339.5 L74.8 339.2 L74.7 338.9 L74.5 338.5 L74.3 338.2 L74.1 337.9 L73.9 337.6 L73.6 337.4 L73.4 337.1 L73.1 336.9 L72.9 336.7 L72.6 336.5 L72.4 336.3 L72.1 336.2 L71.9 336.1 L71.6 336 L71.4 335.9 L71.1 335.9 L70.9 335.9 L70.7 336 L70.5 336 L70.3 336.1" style="stroke:#2a2a2a;stroke-width:1.15;fill:none"/>
<path class="w" d="M36.1 351.1 L35.6 351.5 L35.2 352 L34.8 352.6 L34.6 353.3 L34.4 354.1 L34.4 354.9 L34.4 355.8 L34.6 356.8 L34.8 357.8 L35.2 358.8 L35.6 359.7 L36.1 360.7 L36.7 361.6 L37.3 362.5 L38 363.3 L38.7 364 L39.5 364.6 L40.3 365.1 L41 365.5 L41.8 365.7 L42.5 365.9 L43.2 365.9 L43.8 365.7 L44.4 365.5 L49.3 357.9 L49.5 357.7 L49.7 357.5 L49.9 357.2 L50 356.8 L50.1 356.4 L50.1 356 L50.1 355.6 L50 355.1 L49.9 354.6 L49.7 354.1 L49.5 353.6 L49.3 353.1 L49 352.6 L48.7 352.2 L48.3 351.8 L47.9 351.4 L47.6 351.1 L47.2 350.9 L46.8 350.7 L46.4 350.5 L46 350.5 L45.7 350.5 L45.4 350.5 L45.1 350.7Z" style="fill:#fff;stroke:#333;stroke-width:1.1;stroke-linejoin:round"/>
<path class="t" d="M44.4 365.5 L45.1 365 L45.6 364.2 L45.9 363.3 L46.1 362.3 L46.1 361.1 L45.9 359.8 L45.6 358.5 L45.1 357.2 L44.4 355.9 L43.6 354.7 L42.7 353.6 L41.8 352.6 L40.8 351.8 L39.7 351.3 L38.7 350.9 L37.8 350.7 L36.9 350.8 L36.1 351.1 L35.4 351.6 L34.9 352.4 L34.6 353.3 L34.4 354.3 L34.4 355.5 L34.6 356.8 L34.9 358.1 L35.4 359.4 L36.1 360.7 L36.9 361.9 L37.8 363 L38.7 364 L39.7 364.8 L40.8 365.3 L41.8 365.7 L42.7 365.9 L43.6 365.8 L44.4 365.5Z" style="stroke:#333;stroke-width:1.2;fill:#fff"/>
<path class="t" d="M43.7 364.3 L44.2 363.8 L44.7 363.2 L45 362.5 L45.1 361.6 L45.1 360.6 L45 359.6 L44.7 358.5 L44.2 357.4 L43.7 356.3 L43 355.3 L42.3 354.4 L41.5 353.6 L40.7 352.9 L39.8 352.4 L39 352.1 L38.2 352 L37.5 352.1 L36.8 352.3 L36.3 352.8 L35.8 353.4 L35.5 354.1 L35.4 355 L35.4 356 L35.5 357 L35.8 358.1 L36.3 359.2 L36.8 360.3 L37.5 361.3 L38.2 362.2 L39 363 L39.8 363.7 L40.7 364.2 L41.5 364.5 L42.3 364.6 L43 364.5 L43.7 364.3Z" style="stroke:#666;stroke-width:1;fill:none"/>
<path class="t" d="M42 361.4 L42.3 361.2 L42.6 360.9 L42.7 360.5 L42.8 360 L42.8 359.5 L42.7 359 L42.6 358.4 L42.3 357.8 L42 357.3 L41.7 356.7 L41.3 356.3 L40.9 355.8 L40.5 355.5 L40 355.2 L39.6 355.1 L39.2 355 L38.8 355 L38.5 355.2 L38.2 355.4 L37.9 355.7 L37.8 356.1 L37.7 356.6 L37.7 357.1 L37.8 357.6 L37.9 358.2 L38.2 358.8 L38.5 359.3 L38.8 359.9 L39.2 360.3 L39.6 360.8 L40 361.1 L40.5 361.4 L40.9 361.5 L41.3 361.6 L41.7 361.6 L42 361.4Z" style="stroke:#555;stroke-width:1.05;fill:none"/>
<path class="t" d="M40.9 358.8 L42.6 360.1" style="stroke:#555;stroke-width:1.05;fill:none;stroke-linejoin:round"/>
<path class="t" d="M39.9 357.4 L39.2 355.2" style="stroke:#555;stroke-width:1.05;fill:none;stroke-linejoin:round"/>
<path class="t" d="M39.8 358.6 L38.6 359.3" style="stroke:#555;stroke-width:1.05;fill:none;stroke-linejoin:round"/>
<path d="M78.9 335.8 L86.2 332.3" stroke="#555" stroke-width="0.9" fill="none"/>
</g>
<!-- key -->
<g id="key">
<path class="t" d="M150.6 336.1 L167.2 346.6" style="stroke:#555;stroke-width:1.05"/>
<path class="w" d="M148.2 406.2 L147.9 406.5 L147.6 406.7 L147.4 407.1 L147.3 407.5 L147.2 408 L147.2 408.5 L147.2 409 L147.3 409.6 L147.4 410.2 L147.6 410.7 L147.8 411.3 L148.1 411.9 L148.5 412.4 L148.9 413 L149.3 413.4 L149.7 413.8 L150.1 414.2 L150.6 414.5 L151 414.7 L151.5 414.9 L151.9 415 L152.3 415 L152.7 414.9 L153 414.8 L250.1 359.6 L250.4 359.4 L250.6 359.1 L250.8 358.8 L251 358.4 L251.1 357.9 L251.1 357.4 L251.1 356.9 L251 356.3 L250.8 355.7 L250.6 355.1 L250.4 354.5 L250.1 354 L249.8 353.4 L249.4 352.9 L249 352.5 L248.6 352 L248.1 351.7 L247.7 351.4 L247.2 351.1 L246.8 351 L246.3 350.9 L245.9 350.9 L245.6 351 L245.2 351.1Z" style="fill:#fff;stroke:#2a2a2a;stroke-width:1.15;stroke-linejoin:round"/>
<path class="t" d="M153 414.8 L153.4 414.5 L153.7 414 L153.9 413.5 L154 412.9 L154 412.2 L153.9 411.4 L153.7 410.6 L153.4 409.9 L153.1 409.1 L152.6 408.4 L152.1 407.7 L151.5 407.2 L150.9 406.7 L150.3 406.3 L149.7 406.1 L149.2 406 L148.6 406.1 L148.2 406.2 L147.8 406.5 L147.5 407 L147.3 407.5 L147.2 408.1 L147.2 408.8 L147.3 409.6 L147.5 410.4 L147.8 411.1 L148.1 411.9 L148.6 412.6 L149.1 413.3 L149.7 413.8 L150.3 414.3 L150.9 414.7 L151.5 414.9 L152 415 L152.6 414.9 L153 414.8Z" style="stroke:#2a2a2a;stroke-width:1.1;fill:#fff"/>
<path class="t" d="M250.1 359.6 L250.3 359.5 L250.4 359.3 L250.6 359.1 L250.8 358.9 L250.9 358.6 L251 358.4 L251 358.1 L251.1 357.7 L251.1 357.4 L251.1 357 L251 356.7 L251 356.3 L250.9 355.9 L250.8 355.5 L250.6 355.1 L250.5 354.7 L250.3 354.4 L250.1 354 L249.9 353.6 L249.6 353.3 L249.4 352.9 L249.1 352.6 L248.8 352.3 L248.6 352 L248.3 351.8 L248 351.6 L247.7 351.4 L247.4 351.2 L247.1 351.1 L246.8 351 L246.5 350.9 L246.2 350.9 L245.9 350.9 L245.7 350.9 L245.4 351 L245.2 351.1" style="stroke:#2a2a2a;stroke-width:1.1;fill:none"/>
<path class="w" d="M172.1 356.4 L172.4 356.5 L172.7 356.5 L173.1 356.5 L173.5 356.4 L173.9 356.2 L174.3 356 L174.7 355.7 L175 355.4 L175.4 355 L175.7 354.6 L176.1 354.1 L176.3 353.6 L176.6 353.1 L176.8 352.5 L176.9 352 L177 351.5 L177.1 351 L177.1 350.5 L177 350 L176.9 349.6 L176.8 349.3 L176.6 348.9 L176.4 348.7 L176.1 348.5 L170.7 345.8 L170.4 345.7 L170.1 345.6 L169.7 345.6 L169.3 345.7 L168.9 345.9 L168.5 346.1 L168.2 346.4 L167.8 346.8 L167.4 347.1 L167.1 347.6 L166.7 348.1 L166.5 348.6 L166.2 349.1 L166 349.6 L165.9 350.1 L165.8 350.7 L165.7 351.2 L165.7 351.7 L165.8 352.1 L165.9 352.5 L166 352.9 L166.2 353.2 L166.5 353.4 L166.7 353.6Z" style="fill:#fff;stroke:#333;stroke-width:1.1;stroke-linejoin:round"/>
<path class="w" d="M176.5 367.6 L177.3 367.9 L178.3 368 L179.3 368 L180.4 367.7 L181.5 367.3 L182.6 366.6 L183.7 365.8 L184.8 364.9 L185.8 363.7 L186.8 362.5 L187.7 361.2 L188.5 359.8 L189.2 358.3 L189.7 356.8 L190.1 355.3 L190.4 353.8 L190.6 352.4 L190.6 351 L190.4 349.7 L190.2 348.6 L189.7 347.6 L189.2 346.7 L188.5 346 L187.7 345.5 L176.1 346.2 L175.7 346 L175.2 345.9 L174.6 346 L174.1 346.1 L173.5 346.3 L172.9 346.7 L172.3 347.1 L171.8 347.6 L171.2 348.2 L170.7 348.8 L170.3 349.5 L169.8 350.3 L169.5 351 L169.2 351.8 L169 352.6 L168.8 353.4 L168.7 354.2 L168.7 354.9 L168.8 355.5 L169 356.1 L169.2 356.7 L169.5 357.1 L169.8 357.5 L170.2 357.8Z" style="fill:#fff;stroke:#333;stroke-width:1.1;stroke-linejoin:round"/>
<path class="t" d="M188.9 346.9 L177.5 347.1" style="stroke:#333;stroke-width:1.1;fill:none;stroke-linejoin:round"/>
<path class="t" d="M187.6 345.6 L176.8 346.4" style="stroke:#333;stroke-width:1.1;fill:none;stroke-linejoin:round"/>
<path class="t" d="M185.9 345 L175.9 346.1" style="stroke:#333;stroke-width:1.1;fill:none;stroke-linejoin:round"/>
<path class="t" d="M184 345.1 L174.9 346.1" style="stroke:#333;stroke-width:1.1;fill:none;stroke-linejoin:round"/>
<path class="t" d="M181.9 345.9 L173.8 346.6" style="stroke:#333;stroke-width:1.1;fill:none;stroke-linejoin:round"/>
<path class="t" d="M179.8 347.3 L172.6 347.4" style="stroke:#333;stroke-width:1.1;fill:none;stroke-linejoin:round"/>
<path class="t" d="M177.9 349.3 L171.6 348.4" style="stroke:#333;stroke-width:1.1;fill:none;stroke-linejoin:round"/>
<path class="t" d="M176.1 351.8 L170.6 349.8" style="stroke:#333;stroke-width:1.1;fill:none;stroke-linejoin:round"/>
<path class="t" d="M174.7 354.5 L169.9 351.2" style="stroke:#333;stroke-width:1.1;fill:none;stroke-linejoin:round"/>
<path class="t" d="M173.8 357.3 L169.4 352.8" style="stroke:#333;stroke-width:1.1;fill:none;stroke-linejoin:round"/>
<path class="t" d="M173.3 360.1 L169.1 354.3" style="stroke:#333;stroke-width:1.1;fill:none;stroke-linejoin:round"/>
<path class="t" d="M173.4 362.6 L169.2 355.6" style="stroke:#333;stroke-width:1.1;fill:none;stroke-linejoin:round"/>
<path class="t" d="M174 364.8 L169.5 356.8" style="stroke:#333;stroke-width:1.1;fill:none;stroke-linejoin:round"/>
<path class="t" d="M175 366.4 L170.1 357.7" style="stroke:#333;stroke-width:1.1;fill:none;stroke-linejoin:round"/>
<path class="t" d="M176.5 367.3 L170.9 358.2" style="stroke:#333;stroke-width:1.1;fill:none;stroke-linejoin:round"/>
<path class="t" d="M178.3 367.6 L171.8 358.3" style="stroke:#333;stroke-width:1.1;fill:none;stroke-linejoin:round"/>
<path class="w" d="M179.8 369.7 L180.8 370.1 L181.8 370.2 L182.8 370.2 L183.9 369.9 L185.1 369.4 L186.2 368.8 L187.3 367.9 L188.5 366.9 L189.5 365.8 L190.5 364.5 L191.4 363.1 L192.2 361.7 L192.9 360.2 L193.5 358.6 L194 357.1 L194.3 355.5 L194.4 354.1 L194.4 352.6 L194.3 351.3 L194 350.1 L193.5 349.1 L193 348.2 L192.3 347.5 L191.5 346.9 L187.9 345.1 L187 344.8 L186 344.6 L184.9 344.7 L183.8 345 L182.7 345.4 L181.6 346.1 L180.4 346.9 L179.3 347.9 L178.2 349.1 L177.2 350.3 L176.3 351.7 L175.5 353.2 L174.8 354.7 L174.2 356.2 L173.8 357.8 L173.5 359.3 L173.3 360.8 L173.3 362.2 L173.5 363.5 L173.8 364.7 L174.2 365.8 L174.8 366.7 L175.5 367.4 L176.3 367.9Z" style="fill:#fff;stroke:#333;stroke-width:1.1;stroke-linejoin:round"/>
<path class="t" d="M191.5 346.9 L190.2 346.5 L188.9 346.5 L187.4 346.8 L185.9 347.4 L184.4 348.4 L182.9 349.7 L181.5 351.3 L180.2 353.1 L179.1 355 L178.2 357 L177.5 359.1 L177.1 361.1 L176.9 363.1 L177 364.9 L177.3 366.5 L177.9 367.9 L178.8 369 L179.8 369.7 L181.1 370.1 L182.5 370.2 L183.9 369.9 L185.4 369.2 L187 368.2 L188.5 366.9 L189.9 365.4 L191.1 363.6 L192.2 361.7 L193.2 359.7 L193.8 357.6 L194.3 355.5 L194.4 353.6 L194.3 351.8 L194 350.1 L193.4 348.8 L192.5 347.7 L191.5 346.9Z" style="stroke:#333;stroke-width:1.05;fill:#fff"/>
<path class="w" d="M208 378.4 L208.5 378.7 L209.1 378.7 L209.8 378.7 L210.4 378.5 L211.1 378.3 L211.8 377.9 L212.5 377.4 L213.2 376.7 L213.8 376 L214.5 375.3 L215 374.4 L215.5 373.5 L215.9 372.6 L216.3 371.7 L216.6 370.7 L216.7 369.8 L216.8 368.9 L216.8 368 L216.8 367.2 L216.6 366.5 L216.3 365.9 L216 365.3 L215.5 364.9 L215 364.6 L189.2 351.4 L188.6 351.2 L188 351.1 L187.4 351.1 L186.7 351.3 L186 351.6 L185.3 352 L184.6 352.5 L184 353.1 L183.3 353.8 L182.7 354.6 L182.1 355.4 L181.7 356.3 L181.2 357.2 L180.9 358.2 L180.6 359.1 L180.4 360 L180.3 360.9 L180.3 361.8 L180.4 362.6 L180.6 363.3 L180.9 364 L181.2 364.5 L181.6 365 L182.1 365.3Z" style="fill:#fff;stroke:#222;stroke-width:1.2;stroke-linejoin:round"/>
<path class="t" d="M215 364.6 L214.3 364.3 L213.5 364.3 L212.6 364.5 L211.6 364.9 L210.7 365.5 L209.8 366.3 L208.9 367.2 L208.2 368.3 L207.5 369.5 L206.9 370.7 L206.5 372 L206.3 373.2 L206.2 374.4 L206.2 375.5 L206.4 376.5 L206.8 377.3 L207.3 378 L208 378.4 L208.7 378.7 L209.5 378.7 L210.4 378.5 L211.4 378.1 L212.3 377.5 L213.2 376.7 L214.1 375.8 L214.8 374.7 L215.5 373.5 L216.1 372.3 L216.5 371 L216.7 369.8 L216.8 368.6 L216.8 367.5 L216.6 366.5 L216.2 365.7 L215.7 365 L215 364.6Z" style="stroke:#444;stroke-width:1.05;fill:#fff"/>
<path class="t" d="M189.2 351.4 L188.8 351.2 L188.5 351.1 L188 351.1 L187.6 351.1 L187.2 351.2 L186.7 351.3 L186.3 351.5 L185.8 351.7 L185.3 352 L184.9 352.3 L184.4 352.7 L184 353.1 L183.5 353.5 L183.1 354 L182.7 354.6 L182.3 355.1 L182 355.7 L181.7 356.3 L181.4 356.9 L181.1 357.5 L180.9 358.2 L180.7 358.8 L180.5 359.4 L180.4 360 L180.3 360.6 L180.3 361.2 L180.3 361.8 L180.4 362.3 L180.5 362.9 L180.6 363.3 L180.8 363.8 L181 364.2 L181.2 364.5 L181.5 364.8 L181.8 365.1 L182.1 365.3" style="stroke:#555;stroke-width:1.05;fill:none"/>
</g>
<!-- clamp -->
<g id="clamp">
<path class="t" d="M294.5 168.5 C295.5 167.5 297.7 164.7 300 163 C302.3 161.3 304.4 160.3 307 159.5 C309.6 158.7 310.7 158 314 158.5 C317.3 159 320.8 159.5 325 162 C329.2 164.5 333 167.2 337 172 C341 176.8 344.4 182.1 347 188 C349.6 193.9 350.4 198.9 351.2 204 C352 209.1 352.1 212.2 351.5 216 C350.9 219.8 350.1 221.9 348 224.5 C345.9 227.1 342.8 228.4 340 230 C337.2 231.6 333.9 232.6 332.5 233.2" style="stroke:#333;stroke-width:1.05"/>
<path class="t" d="M298 169.5 C298 171.4 297.2 175.9 297.8 180 C298.4 184.1 299.3 187.2 301 192 C302.7 196.8 304.4 201.2 307 206 C309.6 210.8 312.8 214 315 218 C317.2 222 318 224.8 319 228 C320 231.2 320.2 234.1 320.5 235.5" style="stroke:#333;stroke-width:1.05"/>
<path class="k" d="M302 237 C301.7 236.3 301.4 235.2 300.5 233 C299.6 230.8 299.3 229.2 297 225 C294.7 220.8 290.7 215.5 288 210 C285.3 204.5 283.7 199.9 282.5 195 C281.3 190.1 280.9 187 281.5 183 C282.1 179 283.7 175.7 286 173 C288.3 170.3 290.9 169.1 294 168.5 C297.1 167.9 299.5 168.1 303 169.5 C306.5 170.9 309.3 172.6 313 176 C316.7 179.4 319.7 183.2 323 188 C326.3 192.8 328.8 196.9 331 202 C333.2 207.1 334.2 211.2 334.8 216 C335.4 220.8 334.8 224.5 334.2 228 C333.6 231.5 332.5 233.3 331.5 235 C330.5 236.7 329.1 236.6 328.5 237" style="stroke-width:1.5;stroke:#1a1a1a"/>
<path class="m" d="M301.2 235 L301.2 252.5 L304 253 L304 238" style="stroke:#333;stroke-width:1.2;fill:#666"/>
<path class="t" d="M308 238.5 L316.2 235 L316.2 244.5 L308.2 247.5Z" style="stroke:#666;stroke-width:1.05;fill:#fff"/>
<path class="t" d="M315 241.2 L330.5 236.2 L331 250 L316 258.5Z" style="stroke:#333;stroke-width:1.05;fill:#fff"/>
<path class="t" d="M318.5 245.5 L327.2 242.2 L327.2 249 L318.5 254Z" style="stroke:#333;stroke-width:1.2"/>
<path class="m" d="M313.8 241 L313.5 259 L315.8 259.2 L316.2 240.5" style="stroke:#333;stroke-width:1.2"/>
<path class="k" d="M316.2 240.5 L321 237 L329.5 235" style="stroke-width:1.6"/>
</g>
<!-- holder -->
<g id="holder">
<path class="w" d="M267.5 337.5 L294.5 322.5 L296.8 323.8 L299.5 335 L305 348 L325 367 L325 351 L350 337 L382 355 L382.5 367 L372.5 372.5 L372 392 L356 400 L345.5 405 L338 403.5 L337.5 435 L338.5 445 L335 453 L325 460 L311 462.5 L297 460 L287 454 L283 447 L283.5 441 L286 433 L286 415 L282.2 373.5 L275 357 L270 345Z" style="stroke:none"/>
<path class="k" d="M294.5 322.5 L267.5 337.5" style="stroke-width:1.6;stroke-linejoin:round"/>
<path class="k" d="M267.5 337.5 C267.9 338.8 268.8 341.8 270 345 C271.2 348.2 272.8 353 275 357 C277.2 361 279.7 365.3 283 369 C286.3 372.7 291 376.5 295 379 C299 381.5 303.7 383.1 307 383.8 C310.3 384.5 312.7 383.7 315 383 C317.3 382.3 319.5 381 321 379.5 C322.5 378 323.7 374.9 324.2 374" style="stroke-width:1.6;stroke-linejoin:round"/>
<path class="k" d="M294.5 322.5 C294.8 322.7 296 322.6 296.5 323.5 C297 324.4 297 326.1 297.5 328 C298 329.9 298.7 332.5 299.5 335 C300.3 337.5 301.7 340.9 302.5 343 C303.3 345.1 304.2 346.8 304.5 347.5" style="stroke-width:1.6;stroke-linejoin:round"/>
<path class="t" d="M276.5 334.5 C276.8 336.2 276.9 340.9 278.2 345 C279.4 349.1 281.5 354.8 284 359 C286.5 363.2 290 367.5 293 370.5 C296 373.5 299 375.4 302 377 C305 378.6 308.3 379.8 311 380 C313.7 380.2 315.9 379.4 318 378.5 C320.1 377.6 322.6 375.2 323.5 374.5"/>
<path class="t" d="M272 336.5 C272.2 337.9 272.3 341.4 273.5 345 C274.7 348.6 276.6 353.7 279 358 C281.4 362.3 284.7 367.5 288 371 C291.3 374.5 297.2 377.7 299 379" style="stroke:#555"/>
<path class="t" d="M293.5 324.5 C293.6 325.4 293.2 327.4 293.8 330 C294.4 332.6 295.6 337 297 340 C298.4 343 301.2 346.7 302 348"/>
<path class="t" d="M288 358 L302 351.2"/>
<path class="t" d="M290.5 363 L301.5 357.5"/>
<path class="t" d="M290.5 363 L299 376"/>
<path class="t" d="M301.5 354 L301.5 375" style="stroke:#777"/>
<path class="t" d="M308.5 371 L308.5 380" style="stroke:#555"/>
<path class="t" d="M311.7 371 L311.7 380" style="stroke:#555"/>
<path class="k" d="M319 363 L325 367" style="stroke-width:1.8"/>
<path class="k" d="M282.2 373.5 C282.5 376.7 283.4 388.8 284 395 C284.6 401.2 285.7 409.3 286 415 C286.3 420.7 286.5 429.2 286.2 433 C285.9 436.8 284.5 437.9 284 440 C283.5 442.1 282.6 444.9 283 447 C283.4 449.1 284.9 452.1 287 454 C289.1 455.9 293.4 458.7 297 460 C300.6 461.3 306.8 462.5 311 462.5 C315.2 462.5 321.4 461.4 325 460 C328.6 458.6 333 455.2 335 453 C337 450.8 338.1 447.5 338.5 445 C338.9 442.5 337.9 439.5 337.8 436.5 C337.7 433.5 337.6 429.9 337.5 425 C337.4 420.1 337.2 406.7 337.2 403.5" style="stroke-width:1.5"/>
<path class="t" d="M314.8 398.5 L313.5 415 L312.5 449"/>
<path class="t" d="M315.6 398.5 L314.8 415" style="stroke:#888"/>
<path class="t" d="M288 437 L311 449.5"/>
<path class="t" d="M286 444 C286.3 445 286.2 448.2 288 450 C289.8 451.8 294.2 453.3 297 454.5 C299.8 455.7 302.8 456.9 305 457 C307.2 457.1 309.2 456.2 310.5 455 C311.8 453.8 312.2 450.4 312.5 449.5"/>
<path class="k" d="M315 397.2 L351 384" style="stroke-width:1.6;stroke-dasharray:1.2 0.8"/>
<path class="t" d="M351 384 L356 381.8"/>
<path class="t" d="M323 395 L343 403 L345.5 405"/>
<path class="k" d="M345.5 405 L356 400" style="stroke-width:1.5"/>
<path class="t" d="M343 403 L350 399.5 L350 385"/>
<path class="t" d="M351.5 384 L352 396" style="stroke:#777"/>
<path class="k" d="M325 367.5 L325 351 L350 337 L382 355 L382.5 367" style="stroke-width:1.7;stroke-linejoin:round"/>
<path class="t" d="M325 351 L358 369.8 L382 356"/>
<path class="t" d="M358 369.8 L359 379"/>
<path class="t" d="M359 373 L380.5 360.5" style="stroke:#666"/>
<path class="k" d="M382.5 367 L372.5 372.5 L361 379 L359 379" style="stroke-width:1.4"/>
<path class="t" d="M361 375 L361 379"/>
<path class="t" d="M326.2 374.2 L335 379 L335 383.8 L326.2 379Z" style="stroke:#555"/>
<ellipse class="t" cx="349.2" cy="369.8" rx="3" ry="3.4" style="stroke:#444"/>
<path class="t" d="M347.5 373 L347 376.5 L351 379 L351.5 375" style="stroke:#444"/>
<path class="w" d="M356.2 381.8 L372 379 L372.2 392 L356 400Z" style="fill:url(#knurl);stroke:#222;stroke-width:1.05"/>
<text transform="matrix(0.84 0.5 0 1 287.2 385.6)" style="font-weight:bold;font-size:6.8px;fill:#444;stroke:none" x="0" y="0">BOSCH</text>
</g>
<!-- bolt -->
<g id="bolt">
<path class="w" d="M304 280 L317.5 280 L317.5 368 L315 371.5 L306.5 371.5 L304 368Z" style="stroke:none"/>
<path class="m" d="M304 280 L304.2 368" style="stroke:#444;stroke-width:1.4"/>
<path class="t" d="M305.5 282 L305.7 322" style="stroke:#999;stroke-width:1"/>
<path class="m" d="M317.5 280 L317.5 368" style="stroke:#444;stroke-width:1.4"/>
<path class="t" d="M315.6 282 L315.6 322" style="stroke:#999;stroke-width:1"/>
<path class="t" d="M305 289 C305.8 289.2 308.2 290.2 310 290.2 C311.8 290.2 314.6 289.4 315.5 289.2" style="stroke:#888;stroke-width:1"/>
<path class="t" d="M304.7 323 L317 323" style="stroke:#555;stroke-width:1.05"/>
<path class="t" d="M304.7 325.2 L317 325.2" style="stroke:#555;stroke-width:1.05"/>
<path class="t" d="M304.7 327.4 L317 327.4" style="stroke:#555;stroke-width:1.05"/>
<path class="t" d="M304.7 329.6 L317 329.6" style="stroke:#555;stroke-width:1.05"/>
<path class="t" d="M304.7 331.8 L317 331.8" style="stroke:#555;stroke-width:1.05"/>
<path class="t" d="M304.7 334 L317 334" style="stroke:#555;stroke-width:1.05"/>
<path class="t" d="M304.7 336.2 L317 336.2" style="stroke:#555;stroke-width:1.05"/>
<path class="t" d="M304.7 338.4 L317 338.4" style="stroke:#555;stroke-width:1.05"/>
<path class="t" d="M304.7 340.6 L317 340.6" style="stroke:#555;stroke-width:1.05"/>
<path class="t" d="M304.7 342.8 L317 342.8" style="stroke:#555;stroke-width:1.05"/>
<path class="t" d="M304.7 345 L317 345" style="stroke:#555;stroke-width:1.05"/>
<path class="t" d="M304.7 347.2 L317 347.2" style="stroke:#555;stroke-width:1.05"/>
<path class="t" d="M304.7 349.4 L317 349.4" style="stroke:#555;stroke-width:1.05"/>
<path class="t" d="M304.7 351.6 L317 351.6" style="stroke:#555;stroke-width:1.05"/>
<path class="t" d="M304.7 353.8 L317 353.8" style="stroke:#555;stroke-width:1.05"/>
<path class="t" d="M304.7 356 L317 356" style="stroke:#555;stroke-width:1.05"/>
<path class="t" d="M304.7 358.2 L317 358.2" style="stroke:#555;stroke-width:1.05"/>
<path class="t" d="M304.7 360.4 L317 360.4" style="stroke:#555;stroke-width:1.05"/>
<path class="t" d="M304.7 362.6 L317 362.6" style="stroke:#555;stroke-width:1.05"/>
<path class="t" d="M304.7 364.8 L317 364.8" style="stroke:#555;stroke-width:1.05"/>
<path class="t" d="M304.7 367 L317 367" style="stroke:#555;stroke-width:1.05"/>
<path class="t" d="M304.7 369.2 L317 369.2" style="stroke:#555;stroke-width:1.05"/>
<path class="t" d="M304.2 368 C304.5 368.5 304.9 370.4 306 371 C307.1 371.6 309.4 371.8 311 371.8 C312.6 371.8 314.4 371.6 315.5 371 C316.6 370.4 317.2 368.5 317.5 368" style="stroke:#666"/>
<path class="w" d="M297 265 L307 259 L325 269.5 L325.5 274 L316.2 279.8 L315 280.2 L303 273.8 L298 269.5Z" style="stroke:#222;stroke-width:1.4;stroke-linejoin:round"/>
<path class="t" d="M297 265 L302 265 L315 272.2 L316.2 275 L316.2 279.8" style="stroke:#333"/>
<path class="t" d="M316.2 275 L325 269.5" style="stroke:#333"/>
<path class="t" d="M302 265 L307.5 261.2" style="stroke:#555"/>
<path class="t" d="M315 272.2 L321 268.5" style="stroke:#555"/>
<path class="t" d="M303.5 274.5 C303.6 275.2 303.1 277.9 304 279 C304.9 280.1 307.2 280.9 309 281.2 C310.8 281.4 313.6 280.6 314.5 280.5" style="stroke:#333"/>
</g>
<!-- handle -->
<g id="handle">
<path class="w" d="M284 636.5 C283.7 637.9 282.3 641.2 282.5 644 C282.7 646.8 282.7 649.1 285 652 C287.3 654.9 290.2 657.8 295 660 C299.8 662.2 305.1 663.8 311 664 C316.9 664.2 322.2 662.8 327 661 C331.8 659.2 334.5 657.1 337 654 C339.5 650.9 340.2 647.2 340.5 644 C340.8 640.8 339.1 637.9 338.8 636.5Z" style="stroke:none"/>
<path class="m" d="M285 635 C284.6 635.8 283.3 637.7 282.8 639.5 C282.3 641.3 282.1 642.7 282.5 645 C282.9 647.3 282.7 649.2 285 652 C287.3 654.8 290.2 657.8 295 660 C299.8 662.2 305.1 663.8 311 664 C316.9 664.2 322.2 662.8 327 661 C331.8 659.2 334.5 656.9 337 654 C339.5 651.1 339.9 647.7 340.5 645 C341.1 642.3 340.6 641.3 340 639.5 C339.4 637.7 338 635.8 337.5 635" style="stroke:#222;stroke-width:1.3"/>
<path class="t" d="M284 649 C286 650.4 290.1 654.5 295 656.5 C299.9 658.5 305.1 659.8 311 660 C316.9 660.2 321.9 659.3 327 657.5 C332.1 655.7 336.6 651.4 338.8 650"/>
<path class="t" d="M287 639 C288.5 640.1 290.6 643.3 295 645 C299.4 646.7 305.1 648.5 311 648.5 C316.9 648.5 322.4 646.7 327 645 C331.6 643.3 334.4 640.1 336 639"/>
<path class="w" d="M285 524 L284.8 555 L285.5 595 L286.8 625 L288.5 637 L293 641.5 L298 642 L304 640.5 L307 637 L307.8 630 L314 630 L315 637 L318 640.5 L324 642 L330 641.5 L334.5 637 L336.5 625 L337.8 595 L338.2 555 L338 524Z" style="stroke:none"/>
<path class="m" d="M285 524 C285 528.1 284.7 545.5 284.8 555 C284.9 564.5 285.2 585.7 285.5 595 C285.8 604.3 286.4 619.4 286.8 625 C287.2 630.6 288.3 635.4 288.5 637" style="stroke:#55586a;stroke-width:1.4"/>
<path class="m" d="M338 524 C338 528.1 338.2 545.5 338.2 555 C338.2 564.5 338 585.7 337.8 595 C337.6 604.3 336.9 619.4 336.5 625 C336.1 630.6 334.8 635.4 334.5 637" style="stroke:#55586a;stroke-width:1.4"/>
<path class="m" d="M288.5 637 C288.9 637.6 289.6 639.6 291 640.5 C292.4 641.4 295 642.1 297 642.2 C299 642.3 301.4 641.8 303 641 C304.6 640.2 305.8 638.8 306.5 637.5 C307.2 636.2 307.3 633.8 307.5 633" style="stroke:#222;stroke-width:1.3"/>
<path class="m" d="M334.5 637 C334 637.6 333.1 639.6 331.5 640.5 C329.9 641.4 327.1 642.1 325 642.2 C322.9 642.3 320.6 641.8 319 641 C317.4 640.2 316.3 638.8 315.5 637.5 C314.7 636.2 314.4 633.8 314.2 633" style="stroke:#222;stroke-width:1.3"/>
<path class="m" d="M307 525 L307.5 634" style="stroke:#9a9aa6;stroke-width:2.6"/>
<path class="t" d="M305.5 525 L305.8 635" style="stroke:#444;stroke-width:1.05"/>
<path class="m" d="M314 525 L314.2 634" style="stroke:#33364a;stroke-width:1.6"/>
<path class="t" d="M307.5 634 C307.7 634.7 308.9 636.3 308.5 638 C308.1 639.7 305.6 643 305 644"/>
<path class="t" d="M314.2 634 C314.1 634.7 313 636.3 313.5 638 C314 639.7 316.4 643 317 644"/>
<ellipse class="t" cx="289.5" cy="532.8" rx="1.4" ry="1.8" style="stroke:#222;stroke-width:1.4"/>
<ellipse class="t" cx="294.5" cy="532" rx="1.6" ry="1.8" style="stroke:#222;stroke-width:1.4"/>
<ellipse class="t" cx="300" cy="529.8" rx="1.7" ry="1.8" style="stroke:#222;stroke-width:1.4"/>
<ellipse class="t" cx="323" cy="530" rx="1.7" ry="1.8" style="stroke:#222;stroke-width:1.4"/>
<ellipse class="t" cx="328.5" cy="532.6" rx="1.6" ry="1.8" style="stroke:#222;stroke-width:1.4"/>
<ellipse class="t" cx="333.8" cy="533.2" rx="1.4" ry="1.8" style="stroke:#222;stroke-width:1.4"/>
<ellipse class="t" cx="289.6" cy="541.4" rx="1.4" ry="1.8" style="stroke:#222;stroke-width:1.4"/>
<ellipse class="t" cx="294.6" cy="540.5" rx="1.6" ry="1.8" style="stroke:#222;stroke-width:1.4"/>
<ellipse class="t" cx="300.1" cy="538.4" rx="1.7" ry="1.8" style="stroke:#222;stroke-width:1.4"/>
<ellipse class="t" cx="322.9" cy="538.5" rx="1.7" ry="1.8" style="stroke:#222;stroke-width:1.4"/>
<ellipse class="t" cx="328.4" cy="541.1" rx="1.6" ry="1.8" style="stroke:#222;stroke-width:1.4"/>
<ellipse class="t" cx="333.7" cy="541.8" rx="1.4" ry="1.8" style="stroke:#222;stroke-width:1.4"/>
<ellipse class="t" cx="289.7" cy="549.9" rx="1.4" ry="1.8" style="stroke:#222;stroke-width:1.4"/>
<ellipse class="t" cx="294.7" cy="549.1" rx="1.6" ry="1.8" style="stroke:#222;stroke-width:1.4"/>
<ellipse class="t" cx="300.2" cy="546.9" rx="1.7" ry="1.8" style="stroke:#222;stroke-width:1.4"/>
<ellipse class="t" cx="322.8" cy="547.1" rx="1.7" ry="1.8" style="stroke:#222;stroke-width:1.4"/>
<ellipse class="t" cx="328.3" cy="549.7" rx="1.6" ry="1.8" style="stroke:#222;stroke-width:1.4"/>
<ellipse class="t" cx="333.6" cy="550.3" rx="1.4" ry="1.8" style="stroke:#222;stroke-width:1.4"/>
<ellipse class="t" cx="289.8" cy="558.5" rx="1.4" ry="1.8" style="stroke:#222;stroke-width:1.4"/>
<ellipse class="t" cx="294.8" cy="557.6" rx="1.6" ry="1.8" style="stroke:#222;stroke-width:1.4"/>
<ellipse class="t" cx="300.3" cy="555.5" rx="1.7" ry="1.8" style="stroke:#222;stroke-width:1.4"/>
<ellipse class="t" cx="322.7" cy="555.6" rx="1.7" ry="1.8" style="stroke:#222;stroke-width:1.4"/>
<ellipse class="t" cx="328.2" cy="558.2" rx="1.6" ry="1.8" style="stroke:#222;stroke-width:1.4"/>
<ellipse class="t" cx="333.5" cy="558.9" rx="1.4" ry="1.8" style="stroke:#222;stroke-width:1.4"/>
<ellipse class="t" cx="289.9" cy="567" rx="1.4" ry="1.8" style="stroke:#222;stroke-width:1.4"/>
<ellipse class="t" cx="294.9" cy="566.2" rx="1.6" ry="1.8" style="stroke:#222;stroke-width:1.4"/>
<ellipse class="t" cx="300.4" cy="564" rx="1.7" ry="1.8" style="stroke:#222;stroke-width:1.4"/>
<ellipse class="t" cx="322.6" cy="564.2" rx="1.7" ry="1.8" style="stroke:#222;stroke-width:1.4"/>
<ellipse class="t" cx="328.1" cy="566.8" rx="1.6" ry="1.8" style="stroke:#222;stroke-width:1.4"/>
<ellipse class="t" cx="333.4" cy="567.4" rx="1.4" ry="1.8" style="stroke:#222;stroke-width:1.4"/>
<ellipse class="t" cx="290" cy="575.5" rx="1.4" ry="1.8" style="stroke:#222;stroke-width:1.4"/>
<ellipse class="t" cx="295" cy="574.8" rx="1.6" ry="1.8" style="stroke:#222;stroke-width:1.4"/>
<ellipse class="t" cx="300.5" cy="572.5" rx="1.7" ry="1.8" style="stroke:#222;stroke-width:1.4"/>
<ellipse class="t" cx="322.5" cy="572.8" rx="1.7" ry="1.8" style="stroke:#222;stroke-width:1.4"/>
<ellipse class="t" cx="328" cy="575.4" rx="1.6" ry="1.8" style="stroke:#222;stroke-width:1.4"/>
<ellipse class="t" cx="333.3" cy="576" rx="1.4" ry="1.8" style="stroke:#222;stroke-width:1.4"/>
<ellipse class="t" cx="290.1" cy="584.1" rx="1.4" ry="1.8" style="stroke:#222;stroke-width:1.4"/>
<ellipse class="t" cx="295.1" cy="583.3" rx="1.6" ry="1.8" style="stroke:#222;stroke-width:1.4"/>
<ellipse class="t" cx="300.6" cy="581.1" rx="1.7" ry="1.8" style="stroke:#222;stroke-width:1.4"/>
<ellipse class="t" cx="322.4" cy="581.3" rx="1.7" ry="1.8" style="stroke:#222;stroke-width:1.4"/>
<ellipse class="t" cx="327.9" cy="583.9" rx="1.6" ry="1.8" style="stroke:#222;stroke-width:1.4"/>
<ellipse class="t" cx="333.2" cy="584.5" rx="1.4" ry="1.8" style="stroke:#222;stroke-width:1.4"/>
<ellipse class="t" cx="290.2" cy="592.6" rx="1.4" ry="1.8" style="stroke:#222;stroke-width:1.4"/>
<ellipse class="t" cx="295.2" cy="591.9" rx="1.6" ry="1.8" style="stroke:#222;stroke-width:1.4"/>
<ellipse class="t" cx="300.7" cy="589.6" rx="1.7" ry="1.8" style="stroke:#222;stroke-width:1.4"/>
<ellipse class="t" cx="322.3" cy="589.9" rx="1.7" ry="1.8" style="stroke:#222;stroke-width:1.4"/>
<ellipse class="t" cx="327.8" cy="592.5" rx="1.6" ry="1.8" style="stroke:#222;stroke-width:1.4"/>
<ellipse class="t" cx="333.1" cy="593" rx="1.4" ry="1.8" style="stroke:#222;stroke-width:1.4"/>
<ellipse class="t" cx="290.3" cy="601.2" rx="1.4" ry="1.8" style="stroke:#222;stroke-width:1.4"/>
<ellipse class="t" cx="295.3" cy="600.4" rx="1.6" ry="1.8" style="stroke:#222;stroke-width:1.4"/>
<ellipse class="t" cx="300.8" cy="598.2" rx="1.7" ry="1.8" style="stroke:#222;stroke-width:1.4"/>
<ellipse class="t" cx="322.2" cy="598.4" rx="1.7" ry="1.8" style="stroke:#222;stroke-width:1.4"/>
<ellipse class="t" cx="327.7" cy="601" rx="1.6" ry="1.8" style="stroke:#222;stroke-width:1.4"/>
<ellipse class="t" cx="333" cy="601.6" rx="1.4" ry="1.8" style="stroke:#222;stroke-width:1.4"/>
<ellipse class="t" cx="290.4" cy="609.8" rx="1.4" ry="1.8" style="stroke:#222;stroke-width:1.4"/>
<ellipse class="t" cx="295.4" cy="609" rx="1.6" ry="1.8" style="stroke:#222;stroke-width:1.4"/>
<ellipse class="t" cx="300.9" cy="606.8" rx="1.7" ry="1.8" style="stroke:#222;stroke-width:1.4"/>
<ellipse class="t" cx="322.1" cy="607" rx="1.7" ry="1.8" style="stroke:#222;stroke-width:1.4"/>
<ellipse class="t" cx="327.6" cy="609.5" rx="1.6" ry="1.8" style="stroke:#222;stroke-width:1.4"/>
<ellipse class="t" cx="332.9" cy="610.1" rx="1.4" ry="1.8" style="stroke:#222;stroke-width:1.4"/>
<ellipse class="t" cx="290.5" cy="618.3" rx="1.4" ry="1.8" style="stroke:#222;stroke-width:1.4"/>
<ellipse class="t" cx="295.5" cy="617.5" rx="1.6" ry="1.8" style="stroke:#222;stroke-width:1.4"/>
<ellipse class="t" cx="301" cy="615.3" rx="1.7" ry="1.8" style="stroke:#222;stroke-width:1.4"/>
<ellipse class="t" cx="322" cy="615.5" rx="1.7" ry="1.8" style="stroke:#222;stroke-width:1.4"/>
<ellipse class="t" cx="327.5" cy="618.1" rx="1.6" ry="1.8" style="stroke:#222;stroke-width:1.4"/>
<ellipse class="t" cx="332.8" cy="618.7" rx="1.4" ry="1.8" style="stroke:#222;stroke-width:1.4"/>
<ellipse class="t" cx="290.6" cy="626.9" rx="1.4" ry="1.8" style="stroke:#222;stroke-width:1.4"/>
<ellipse class="t" cx="295.6" cy="626" rx="1.6" ry="1.8" style="stroke:#222;stroke-width:1.4"/>
<ellipse class="t" cx="301.1" cy="623.9" rx="1.7" ry="1.8" style="stroke:#222;stroke-width:1.4"/>
<ellipse class="t" cx="321.9" cy="624" rx="1.7" ry="1.8" style="stroke:#222;stroke-width:1.4"/>
<ellipse class="t" cx="327.4" cy="626.6" rx="1.6" ry="1.8" style="stroke:#222;stroke-width:1.4"/>
<ellipse class="t" cx="332.7" cy="627.2" rx="1.4" ry="1.8" style="stroke:#222;stroke-width:1.4"/>
<ellipse class="t" cx="290.7" cy="635.4" rx="1.4" ry="1.8" style="stroke:#222;stroke-width:1.4"/>
<ellipse class="t" cx="295.7" cy="634.6" rx="1.6" ry="1.8" style="stroke:#222;stroke-width:1.4"/>
<ellipse class="t" cx="301.2" cy="632.4" rx="1.7" ry="1.8" style="stroke:#222;stroke-width:1.4"/>
<ellipse class="t" cx="321.8" cy="632.6" rx="1.7" ry="1.8" style="stroke:#222;stroke-width:1.4"/>
<ellipse class="t" cx="327.3" cy="635.2" rx="1.6" ry="1.8" style="stroke:#222;stroke-width:1.4"/>
<ellipse class="t" cx="332.6" cy="635.8" rx="1.4" ry="1.8" style="stroke:#222;stroke-width:1.4"/>
<ellipse class="w" cx="311.2" cy="497.8" rx="49.8" ry="27.2" style="stroke:#222;stroke-width:1.3"/>
<ellipse class="w" cx="311.2" cy="495.6" rx="49.8" ry="26.6" style="stroke:#222;stroke-width:1.3"/>
<ellipse class="t" cx="311.3" cy="495.5" rx="27.8" ry="17.2" style="stroke:#333;stroke-width:1.05"/>
<ellipse class="w" cx="311.3" cy="494" rx="27.8" ry="16.5" style="stroke:#222;stroke-width:1.2"/>
<ellipse class="t" cx="311.3" cy="493.8" rx="24.8" ry="14.2" style="stroke:#444;stroke-width:1.05"/>
<ellipse class="t" cx="311.5" cy="493.5" rx="16" ry="9.5" style="stroke:#222;stroke-width:1.2"/>
<ellipse class="t" cx="311.5" cy="493.5" rx="13.8" ry="8" style="stroke:#555;stroke-width:1"/>
<ellipse class="t" cx="311.5" cy="493.3" rx="6.5" ry="3.9" style="stroke:#222;stroke-width:1.2"/>
<path class="t" d="M327.5 493.5 L336.1 493.8" style="stroke:#222;stroke-width:1.4"/>
<path class="t" d="M322.8 500.2 L328.8 503.8" style="stroke:#222;stroke-width:1.4"/>
<path class="t" d="M311.5 503 L311.3 508" style="stroke:#222;stroke-width:1.4"/>
<path class="t" d="M300.2 500.2 L293.8 503.8" style="stroke:#222;stroke-width:1.4"/>
<path class="t" d="M295.5 493.5 L286.5 493.8" style="stroke:#222;stroke-width:1.4"/>
<path class="t" d="M300.2 486.8 L293.8 483.8" style="stroke:#222;stroke-width:1.4"/>
<path class="t" d="M311.5 484 L311.3 479.6" style="stroke:#222;stroke-width:1.4"/>
<path class="t" d="M322.8 486.8 L328.8 483.8" style="stroke:#222;stroke-width:1.4"/>
</g>
<!-- case_a -->
<g id="case_a">
<path class="k" d="M26.8 896.8 C26.9 896.5 27.3 894.5 27.7 894 C28.1 893.4 27.9 893 30.2 892 C32.6 891 45.3 886 47.5 885 C49.7 883.9 47.8 884.2 49.3 883.3 C50.8 882.4 58.7 878.2 60.2 877.3 C61.8 876.4 60.4 876.5 62.2 875.5 C64 874.5 74.2 869.3 76 868.3 C77.8 867.2 76 867.5 77.8 866.5 C79.5 865.5 89.2 860.7 91 859.8 C92.8 858.8 91 859 92.8 858 C94.5 856.9 104.2 852 106 851 C107.8 850.1 105.8 850.6 107.8 849.5 C109.8 848.5 121.2 842.9 123.2 841.8 C125.3 840.6 123.4 841.1 125 840.1 C126.7 839.1 135.8 834.1 137.5 833 C139.2 832 137.3 832.5 139.3 831.4 C141.3 830.3 152.7 824.6 154.8 823.5 C156.8 822.3 154.9 822.9 156.5 821.8 C158.2 820.7 167.3 815.3 169 814.3 C170.7 813.2 169 813.8 170.8 812.8 C172.5 811.8 182.2 806.8 184 805.8 C185.8 804.7 184 805.2 185.8 804.1 C187.6 803 197.9 797.5 199.8 796.5 C201.6 795.4 199.7 795.9 201.5 795 C203.4 794 213.7 789.2 215.5 788.2 C217.3 787.2 215.7 787.8 217.3 786.7 C218.9 785.7 228 780.1 229.4 779.2" style="stroke-width:1.3"/>
<path class="t" d="M60.2 877.1 L88 892.5"/>
<path class="t" d="M88 892.5 C88.7 892.6 89.6 893.3 91 893.2 C92.4 893.1 92 893.3 94 892 C96 890.7 98.1 889.4 99.7 887.8 C101.3 886.2 101.2 886.4 101 885.2 C100.9 884.1 99.7 883.3 99.2 882.7"/>
<path class="t" d="M99.2 882.7 L76 868.5"/>
<path class="t" d="M91.2 859.3 L119 874.6"/>
<path class="t" d="M119 874.6 C119.7 874.8 120.6 875.5 122 875.4 C123.4 875.2 122.9 875.4 125 874.1 C127 872.9 129 871.5 130.7 870 C132.3 868.4 132.1 868.6 132 867.4 C131.9 866.2 130.6 865.4 130.2 864.9"/>
<path class="t" d="M130.2 864.9 L107 850.6"/>
<path class="t" d="M122.2 841.5 L149.9 856.8"/>
<path class="t" d="M149.9 856.8 C150.6 856.9 151.5 857.6 152.9 857.5 C154.3 857.4 153.9 857.6 155.9 856.3 C158 855 160 853.7 161.7 852.1 C163.3 850.5 163.1 850.7 163 849.5 C162.9 848.4 161.6 847.6 161.2 847"/>
<path class="t" d="M161.2 847 L137.9 832.8"/>
<path class="t" d="M153.2 823.6 L180.9 838.9"/>
<path class="t" d="M180.9 838.9 C181.6 839.1 182.5 839.8 183.9 839.6 C185.3 839.5 184.9 839.7 186.9 838.5 C189 837.2 191 835.8 192.6 834.2 C194.3 832.7 194.1 832.9 194 831.7 C193.9 830.5 192.6 829.7 192.2 829.1"/>
<path class="t" d="M192.2 829.1 L168.9 814.9"/>
<path class="t" d="M184.2 805.8 L211.9 821"/>
<path class="t" d="M211.9 821 C212.6 821.2 213.5 821.9 214.9 821.8 C216.3 821.7 215.9 821.9 217.9 820.6 C219.9 819.3 222 818 223.6 816.4 C225.2 814.8 225.1 815 224.9 813.9 C224.8 812.7 223.6 811.9 223.1 811.3"/>
<path class="t" d="M223.1 811.3 L199.9 797"/>
<path class="t" d="M47.5 885.2 L224.5 985.3"/>
<path class="t" d="M29.5 893.5 L220.3 1001 Q225.8 1004.2 227.3 1008.6"/>
<path class="t" d="M27.3 903.5 L210.2 1007.6 Q212.6 1010.1 225.3 1007.1"/>
<path class="t" d="M25.5 922.3 L210.2 1028.7 Q211.6 1031.4 227.3 1027.7"/>
<path class="t" d="M26.5 931.5 L210.2 1036.7 Q216.4 1040.2 227.8 1036"/>
<path class="t" d="M27.5 938.5 L209.2 1042.7 Q209.9 1047.1 227.8 1042.2"/>
<path class="k" d="M26.8 896.5 C26.7 898.2 26.4 903.4 26.2 907 C25.9 910.6 25.5 915.2 25.3 918.2 C25 921.2 24.8 922.4 24.7 925 C24.6 927.6 24.6 931.9 25 934 C25.4 936.1 26.4 935.5 26.8 937.8 C27.2 940 27.1 942.1 27.4 947.5 C27.6 952.9 28 965.2 28.3 970 C28.6 974.8 28.5 974.5 29.2 976 C29.9 977.5 31.9 978.8 32.5 979.3" style="stroke-width:1.3"/>
<path class="k" d="M32.5 979.3 L220.8 1086.7"/>
<path class="k" d="M220.8 1086.7 C221.4 1087 223.4 1088.3 224.5 1088.2 C225.6 1088.1 226.6 1087.3 227.2 1086.2 C227.8 1085.2 227.7 1082.5 227.8 1081.8"/>
<path class="t" d="M226.3 1007.8 L227.8 1081.8" style="stroke:#777"/>
<path class="t" d="M226.4 1046.4 L241.8 1073.8"/>
<path class="k" d="M225.5 1088 L240 1076.5" style="stroke-width:1.3"/>
<path class="k" d="M224.5 985.3 L236.8 978.4" style="stroke-width:1.6;stroke:#555"/>
</g>
<!-- case_b -->
<g id="case_b">
<path class="t" d="M145.6 924.2 C145.3 924 144.2 923.5 143.9 923.1 C143.7 922.8 142 923.7 144.1 922.4 C146.2 921.1 154.2 916.7 156.6 915.5 C158.9 914.3 157.5 915.2 158.1 915.4 C158.6 915.5 159.6 916.2 159.8 916.4"/>
<path class="t" d="M145.6 924.2 L236.8 976.6"/>
<path class="t" d="M159.8 916.4 L267 978"/>
<path class="t" d="M176.3 906.2 C176.1 906 174.9 905.5 174.7 905.1 C174.4 904.8 172.9 905.6 174.8 904.4 C176.8 903.2 184.4 899.2 186.6 898.1 C188.8 897 187.5 897.8 188.1 898 C188.6 898.1 189.6 898.8 189.8 899"/>
<path class="t" d="M176.3 906.2 L245 947.5"/>
<path class="t" d="M189.8 899 L262 940"/>
<path class="t" d="M207.8 887.9 C207.6 887.7 206.4 887.1 206.2 886.9 C205.9 886.6 204.4 887.3 206.3 886.1 C208.3 884.9 215.9 880.6 218.1 879.5 C220.2 878.4 219 879.2 219.6 879.4 C220.1 879.5 221.1 880.2 221.3 880.4"/>
<path class="t" d="M207.8 887.9 L279 930"/>
<path class="t" d="M221.3 880.4 L294 922"/>
<path class="t" d="M238.9 870.2 C238.6 870 237.5 869.5 237.2 869.1 C237 868.8 235.3 869.7 237.4 868.4 C239.4 867.1 247.3 862.7 249.6 861.5 C251.8 860.3 250.5 861.2 251.1 861.4 C251.6 861.5 252.6 862.2 252.8 862.4"/>
<path class="t" d="M238.9 870.2 L310 912.5"/>
<path class="t" d="M252.8 862.4 L322 900"/>
<path class="t" d="M268.9 852.6 C268.6 852.5 267.5 851.9 267.2 851.6 C267 851.3 265.3 852.1 267.4 850.9 C269.4 849.6 277.3 845.2 279.5 844.1 C281.8 843 280.5 843.8 281 844 C281.6 844.1 282.6 844.8 282.9 845"/>
<path class="t" d="M269.2 853 L372 911.5"/>
<path class="t" d="M372 911.5 C372.8 912.1 375.4 913.8 376.5 915.2 C377.6 916.8 378.2 918 378.8 920.5 C379.2 923 379.4 928.4 379.5 930"/>
<path class="t" d="M283.5 845 L379.5 899.5"/>
<path class="t" d="M379.5 899.5 C380.8 900.4 385.1 903 387 904.8 C388.9 906.5 389.9 907.6 390.8 910 C391.6 912.4 391.8 915.7 392.2 919 C392.7 922.3 393.1 928.1 393.3 930"/>
<path class="t" d="M214.5 787.8 L390 887.8"/>
<path class="t" d="M390 888.2 L379.5 898.8"/>
<path class="t" d="M390 887.8 C391.1 888.8 395 891.3 396.8 893.5 C398.5 895.7 399.6 898 400.5 901 C401.4 904 401.8 909.8 402 911.5"/>
<path class="t" d="M229.5 778.8 L417 886"/>
<path class="t" d="M417 886 C417.8 886.8 420.4 888.5 421.5 890.5 C422.6 892.5 423.2 894 423.8 898 C424.3 902 424.6 911.8 424.8 914.5"/>
<path class="k" d="M228.3 779.2 C229.1 778.6 230.2 777 232.5 776.2 C234.8 775.4 237 775.1 240 775 C243 774.9 244.8 775.1 247.5 775.8 C250.2 776.4 252.3 777.8 253.5 778.3" style="stroke-width:1.3"/>
<path class="k" d="M253.5 778.3 L426.8 878.2"/>
<path class="k" d="M426.8 878.2 C427.5 878.7 430.2 880 431.2 881.2 C432.3 882.4 432.8 883.7 433.2 885.2 C433.6 886.8 433.4 889.6 433.5 890.5" style="stroke-width:1.3"/>
<path class="t" d="M404.2 895 C405 895.9 407.6 898.1 408.8 900.2 C409.9 902.4 410.5 905.1 411 907.8 C411.5 910.4 411.6 914.6 411.8 916"/>
<path class="t" d="M262 940 L279 930"/>
<path class="t" d="M259 938 C259.4 938.4 260.8 939.3 261.5 940.5 C262.2 941.7 262.6 943.2 263 945 C263.4 946.8 263.7 950 263.8 951"/>
<path class="t" d="M279 930 C279.4 930.7 280.6 932.4 281.2 934 C281.8 935.6 282.3 938.6 282.5 939.5"/>
<path class="t" d="M294 922 L310 912.5"/>
<path class="t" d="M291.5 920 C291.9 920.4 293.2 921.3 293.8 922.5 C294.4 923.7 294.7 925.4 295 927 C295.3 928.6 295.4 931.2 295.5 932"/>
<path class="t" d="M310 912.5 C310.5 913.2 312.2 915.4 313 917 C313.8 918.6 314.2 921.3 314.5 922.2"/>
<path class="t" d="M320 898.8 C320.7 899.4 323 901 324 902.5 C325 904 325.6 906 326 908 C326.4 910 326.4 913.4 326.5 914.5"/>
<path class="t" d="M325 905 C325.5 904.7 326.9 903.4 328 903 C329.1 902.6 330.2 902.4 331.5 902.5 C332.8 902.6 334.6 903.2 336 903.8 C337.4 904.4 339.3 905.6 340 906"/>
<path class="t" d="M340 906 L361 918"/>
<path class="t" d="M361 918 C361.8 918.7 364.8 920.5 366 922 C367.2 923.5 368 925.2 368.5 927 C369 928.8 369.1 932 369.2 933"/>
<path class="t" d="M245 947.5 C245.5 948.1 247.2 950.1 248 951 C248.8 951.9 249.1 952.4 250 953 C250.9 953.6 252.9 954.2 253.5 954.5"/>
<path class="t" d="M253.5 954.5 L270 964.2"/>
<path class="t" d="M270 964.2 C271 964.9 274.3 967 276 968.5 C277.7 970 279 971.7 280 973 C281 974.3 281.8 975.9 282.2 976.5"/>
<path class="t" d="M282.2 976.5 L291 977"/>
<path class="t" d="M270 964.2 L325 932"/>
<path class="t" d="M325 932 C325.7 931.7 327 930.7 328.5 930.3 C330 929.9 330.8 929.7 332.5 930 C334.2 930.3 335.3 930.9 337 932 C338.7 933.1 339.4 933.7 341 935.5 C342.6 937.3 343.2 938.5 345 941 C346.8 943.5 349 946.8 350 948.2"/>
<path class="t" d="M350 948.2 L297 978.8"/>
<path class="t" d="M350 948.2 L352.8 942.2"/>
<path class="k" d="M224.5 985.8 L237.2 978" style="stroke-width:2;stroke:#666"/>
<path class="t" d="M237.2 978 C237.7 978.6 238.9 980.2 240 981.5 C241.1 982.8 242.3 984.5 243.5 986 C244.7 987.5 246.6 989.6 247.2 990.3"/>
<path class="t" d="M302.5 979.8 L317 987"/>
</g>
<!-- case_c -->
<g id="case_c">
<path class="k" d="M432.5 885 C432.6 887.4 432.8 900.4 433 903 C433.2 905.6 434 902.6 434.2 904.5 C434.4 906.4 434.6 915.4 434.5 917.5 C434.4 919.6 433.5 917 433.2 920 C432.9 923 432.7 934.7 432.5 940 C432.3 945.3 431.9 957.3 431.8 960" style="stroke-width:1.3"/>
<path class="t" d="M418 889 C418.7 889.8 421 892.2 422 894 C423 895.8 423.5 897.7 424 900 C424.5 902.3 424.8 905.3 425 908 C425.2 910.7 425 914.7 425 916"/>
<path class="t" d="M425 916 L433.2 912"/>
<path class="t" d="M423 895 L432.2 890"/>
<path class="t" d="M404.5 895 C405.2 895.8 407.8 898.2 409 900 C410.2 901.8 411 903.8 411.5 906 C412 908.2 412.1 911.8 412.2 913"/>
<path class="t" d="M412.2 913 L413 970 L410.8 979" style="stroke:#556"/>
<path class="t" d="M390 888.5 C391.2 889.6 395.6 892.8 397.5 895 C399.4 897.2 400.6 899.3 401.5 902 C402.4 904.7 402.8 909.5 403 911"/>
<path class="t" d="M379.5 899.5 C380.8 900.2 384.8 902.1 387 904 C389.2 905.9 391.2 908.3 392.5 911 C393.8 913.7 394.2 918.5 394.5 920"/>
<path class="t" d="M394.5 920 L394.8 970 L394 988" style="stroke:#556"/>
<path class="t" d="M372 911.5 C372.9 912.3 376.2 914.4 377.5 916.5 C378.8 918.6 379.5 921.4 380 924 C380.5 926.6 380.4 930.7 380.5 932"/>
<path class="t" d="M380.5 932 L380.5 945 L380 999" style="stroke:#556"/>
<path class="t" d="M360 917.5 C360.9 918.2 363.9 919.8 365.5 921.5 C367.1 923.2 368.6 925.6 369.5 928 C370.4 930.4 370.4 934.7 370.6 936"/>
<path class="t" d="M370.6 936 L370.3 953" style="stroke:#556"/>
<path class="t" d="M370.3 953 C370.1 953.6 369.8 955.5 369 956.5 C368.2 957.5 366.1 958.6 365.5 959"/>
<path class="t" d="M365.5 959 L317 984.5"/>
<path class="t" d="M380.5 945 C379.9 945.6 378 947 377 948.5 C376 950 375.3 952.1 374.5 954 C373.7 955.9 373.1 958.3 372 960 C370.9 961.7 368.7 963.3 368 964"/>
<path class="t" d="M368 964 L321.5 990"/>
<path class="t" d="M380.5 945.5 L395 939"/>
<path class="t" d="M395 962.5 L411 954"/>
<path class="t" d="M412.5 929 L425 922.5 L433.5 917.5"/>
<path class="t" d="M402 959 L402 982" style="stroke:#556"/>
<path class="t" d="M425 928 L424 970" style="stroke:#556"/>
<path class="h" d="M395.2 915.2 L403 912" style="stroke:#555;stroke-width:1"/>
<path class="h" d="M395.2 916.6 L405 912.4" style="stroke:#555;stroke-width:1"/>
<path class="h" d="M395.2 918 L407 912.8" style="stroke:#555;stroke-width:1"/>
<path class="h" d="M395.2 919.4 L409 913.2" style="stroke:#555;stroke-width:1"/>
<path class="h" d="M395.2 920.8 L411 913.6" style="stroke:#555;stroke-width:1"/>
<path class="t" d="M395 914 L402 911.2 L411 913"/>
<path class="h" d="M395.2 921.2 L411 913.5" style="stroke:#555;stroke-width:1"/>
<path class="k" d="M431.8 960 C431.7 960.5 431.1 963.3 430.8 964 C430.5 964.7 429.7 965.6 429 966.2 C428.3 966.8 425.3 968.1 424.5 968.8 C423.7 969.5 423.9 970.6 422.2 972 C420.4 973.4 411.6 979.5 409.5 980.8 C407.4 982.1 405.1 982.9 404.2 983 C403.3 983.1 403.1 981.6 402 982 C400.9 982.4 395.6 985 394.5 986 C393.4 987 394.5 989 392.5 990.5 C390.5 992 379.5 997.8 377.5 998.8 C375.5 999.8 376 998.6 375 999 C374 999.4 370.2 1001.5 369 1002.2 C367.8 1002.9 365.7 1004.5 365 1004.8 C364.3 1005.1 363.1 1005 362.8 1005" style="stroke-width:1.4"/>
<path class="k" d="M362.8 1005 L334 988.2 L324 993.2" style="stroke-width:1.4"/>
<path class="t" d="M368 967.2 L369 1002" style="stroke:#556"/>
<path class="t" d="M324 992.5 L367.5 968"/>
<path class="t" d="M302 979.8 L318 987.8"/>
</g>
<!-- case_d -->
<g id="case_d">
<ellipse class="w" cx="285.2" cy="1032.6" rx="56.2" ry="56.2" style="stroke:#333;stroke-width:1.05;stroke-dasharray:17.4 4.3 1.2 4.26;stroke-dashoffset:-7.4"/>
<g filter="url(#noise)">
<path class="w" d="M277.9 1003.7 C281.5 1001.4 301.2 988.6 305.2 986.2 C309.2 983.8 307.3 985.6 307.9 985.8 C308.4 986.1 309.2 987.9 309.4 988.2 L309.8 1066.2 L276.9 1085.5 L276.7 1085.2 L263.3 1079.5 L263.6 1015 L277.9 1003.7Z" style="fill:#acac93;stroke:none"/>
</g>
<path class="t" d="M277.9 1004 L276.9 1085.2" style="stroke:#8d8f9c;stroke-width:1.2"/>
<path class="t" d="M309.5 988.8 L309.8 1066.2" style="stroke:#9a9cb0;stroke-width:2"/>
<path class="t" d="M263.6 1015 L263.3 1079.5" style="stroke:#777;stroke-width:1.05"/>
<path class="t" d="M263.3 1079.5 L276.7 1085.5 L309.8 1066.2" style="stroke:#777;stroke-width:1.05"/>
<path class="t" d="M277.9 1003.7 L305.2 986.2" style="stroke:#999;stroke-width:1"/>
<path class="t" d="M264.2 1015 C264.5 1015.6 264.7 1017.6 266 1018.6 C267.2 1019.6 270.4 1020.1 271.9 1021 C273.4 1021.8 274.4 1023.4 274.9 1023.9" style="stroke:#333;stroke-width:1.5"/>
<path class="t" d="M266 1021 C265.6 1021.2 264.1 1021.3 263.6 1022.1 C263.1 1022.9 262.8 1024.4 263 1025.7 C263.2 1027 264.1 1029.1 264.8 1029.9 C265.5 1030.7 266.7 1030.4 267.1 1030.5" style="stroke:#555"/>
<ellipse class="t" cx="266.9" cy="1073.9" rx="3.6" ry="4" style="stroke:#666"/>
<path class="t" d="M264.2 1071 C263.8 1071.2 262.2 1071.9 261.8 1072.7 C261.3 1073.5 261.2 1074.8 261.4 1075.7 C261.6 1076.6 262.3 1077.6 263 1078.1 C263.6 1078.6 265 1078.6 265.4 1078.7" style="stroke:#555"/>
<ellipse class="w" cx="309.8" cy="1048" rx="1.1" ry="1.1" style="fill:#000"/>
<path class="t" d="M310.6 1048 L358.8 1047.6" style="stroke:#777;stroke-width:1.1"/>
</g>
<!-- tube -->
<g id="tube">
<path class="w" d="M519 948.3 C518.2 949 515.6 950.9 514 952.5 C512.4 954.2 510.4 955.8 509.5 958.1 C508.6 960.3 508.6 964.7 508.4 966 L508.4 1081.9 L543.7 1081.9 L543.7 966 L543.7 966 C543.5 964.7 543.4 960.3 542.5 958.1 C541.7 955.8 539.9 954.2 538.6 952.5 C537.2 950.9 535 949 534.3 948.3Z" style="stroke:#2a2a2a;stroke-width:1.2;fill:#fff"/>
<path class="t" d="M541.9 967.6 L541.9 1081.1" style="stroke:#444;stroke-width:1.05"/>
<path class="t" d="M508.7 963.7 C509.8 964.6 510.4 966.8 514 968.4 C517.6 970 521.7 971.6 526.7 971.6 C531.6 971.6 535.2 970 538.6 968.4 C541.9 966.8 542.5 964.6 543.5 963.7" style="stroke:#444;stroke-width:1.05"/>
<path class="t" d="M508.7 973.2 C509.8 974.1 510.4 976.3 514 977.9 C517.6 979.5 521.7 981.1 526.7 981.1 C531.6 981.1 535.2 979.5 538.6 977.9 C541.9 976.3 542.5 974.1 543.5 973.2" style="stroke:#444;stroke-width:1.05"/>
<path class="t" d="M509.5 1081.1 C509.8 1079.4 509.7 1075.7 511.1 1072.4 C512.5 1069 513.2 1066.9 516.3 1064.4 C519.5 1062 522.7 1060 526.7 1060 C530.6 1060 533.3 1062 536.2 1064.4 C539.1 1066.9 539.9 1069 541.3 1072.4 C542.6 1075.7 542.5 1079.4 542.9 1081.1" style="stroke:#444;stroke-width:1.05"/>
<path class="w" d="M507.6 1081.9 L545.7 1081.9 L545.7 1091.4 L507.6 1091.4Z" style="stroke:#222;stroke-width:1.4;fill:#fff"/>
<path class="t" d="M508.1 1083.5 L545.4 1083.5" style="stroke:#999;stroke-width:1.6"/>
<path class="w" d="M515.2 940.6 L515.2 946.2 L515.2 946.2 C516.3 946.8 518 948.6 520.3 949.4 C522.6 950.2 524.1 950.2 526.7 950.2 C529.2 950.2 530.7 950.2 533 949.4 C535.3 948.6 537.1 946.8 538.1 946.2 L538.1 940.6Z" style="stroke:#2a2a2a;stroke-width:1.2;fill:#fff"/>
<path class="t" d="M520.3 947 L520.3 949.5" style="stroke:#555;stroke-width:0.9"/>
<path class="t" d="M522.5 947 L522.5 949.5" style="stroke:#555;stroke-width:0.9"/>
<path class="t" d="M524.8 947 L524.8 949.5" style="stroke:#555;stroke-width:0.9"/>
<path class="t" d="M527 947 L527 949.5" style="stroke:#555;stroke-width:0.9"/>
<path class="t" d="M529.2 947 L529.2 949.5" style="stroke:#555;stroke-width:0.9"/>
<path class="t" d="M531.4 947 L531.4 949.5" style="stroke:#555;stroke-width:0.9"/>
<path class="t" d="M533.7 947 L533.7 949.5" style="stroke:#555;stroke-width:0.9"/>
<ellipse class="w" cx="526.7" cy="940.6" rx="11.4" ry="6" style="stroke:#2a2a2a;stroke-width:1.2;fill:#fff"/>
</g>
<!-- footer -->
<g id="footer">
<text class="r" x="1413.6" y="1037" textLength="154" lengthAdjust="spacingAndGlyphs">Modifications reserved</text>
<text class="r" x="1413.6" y="1053.6" textLength="169" lengthAdjust="spacingAndGlyphs">Änderungen vorbehalten</text>
<text class="r" x="1413.6" y="1070.8" textLength="162" lengthAdjust="spacingAndGlyphs">Modifications resérvées</text>
<text class="r" x="1413.6" y="1088" textLength="145" lengthAdjust="spacingAndGlyphs">Salvo modificaciones</text>
</g>
</g>
</svg>
</body>
</html>
